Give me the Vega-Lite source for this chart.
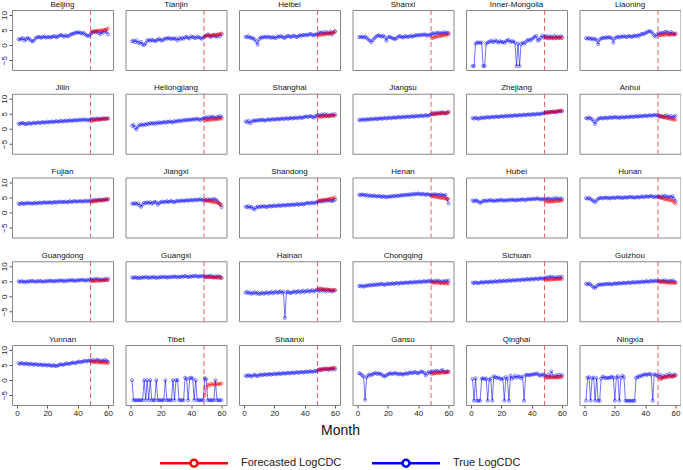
{
"$schema":"https://vega.github.io/schema/vega-lite/v6.json",
"padding":{"left":0,"top":0,"right":0,"bottom":0},
"bounds":"flush",
"data":{"values":[
{"p":"Beijing","m":1,"v":2.0,"s":"T"},{"p":"Beijing","m":2,"v":1.8,"s":"T"},{"p":"Beijing","m":3,"v":2.2,"s":"T"},{"p":"Beijing","m":4,"v":2.3,"s":"T"},{"p":"Beijing","m":5,"v":1.5,"s":"T"},{"p":"Beijing","m":6,"v":2.0,"s":"T"},{"p":"Beijing","m":7,"v":2.4,"s":"T"},{"p":"Beijing","m":8,"v":2.1,"s":"T"},{"p":"Beijing","m":9,"v":1.6,"s":"T"},{"p":"Beijing","m":10,"v":1.2,"s":"T"},
{"p":"Beijing","m":11,"v":1.4,"s":"T"},{"p":"Beijing","m":12,"v":2.2,"s":"T"},{"p":"Beijing","m":13,"v":2.5,"s":"T"},{"p":"Beijing","m":14,"v":2.8,"s":"T"},{"p":"Beijing","m":15,"v":2.6,"s":"T"},{"p":"Beijing","m":16,"v":2.4,"s":"T"},{"p":"Beijing","m":17,"v":2.7,"s":"T"},{"p":"Beijing","m":18,"v":2.9,"s":"T"},{"p":"Beijing","m":19,"v":2.5,"s":"T"},{"p":"Beijing","m":20,"v":2.6,"s":"T"},
{"p":"Beijing","m":21,"v":2.8,"s":"T"},{"p":"Beijing","m":22,"v":2.5,"s":"T"},{"p":"Beijing","m":23,"v":2.7,"s":"T"},{"p":"Beijing","m":24,"v":2.9,"s":"T"},{"p":"Beijing","m":25,"v":3.0,"s":"T"},{"p":"Beijing","m":26,"v":2.6,"s":"T"},{"p":"Beijing","m":27,"v":2.8,"s":"T"},{"p":"Beijing","m":28,"v":3.2,"s":"T"},{"p":"Beijing","m":29,"v":3.4,"s":"T"},{"p":"Beijing","m":30,"v":3.1,"s":"T"},
{"p":"Beijing","m":31,"v":2.8,"s":"T"},{"p":"Beijing","m":32,"v":3.3,"s":"T"},{"p":"Beijing","m":33,"v":2.9,"s":"T"},{"p":"Beijing","m":34,"v":3.0,"s":"T"},{"p":"Beijing","m":35,"v":3.5,"s":"T"},{"p":"Beijing","m":36,"v":3.6,"s":"T"},{"p":"Beijing","m":37,"v":3.8,"s":"T"},{"p":"Beijing","m":38,"v":4.0,"s":"T"},{"p":"Beijing","m":39,"v":4.2,"s":"T"},{"p":"Beijing","m":40,"v":4.1,"s":"T"},
{"p":"Beijing","m":41,"v":4.3,"s":"T"},{"p":"Beijing","m":42,"v":4.0,"s":"T"},{"p":"Beijing","m":43,"v":3.8,"s":"T"},{"p":"Beijing","m":44,"v":4.1,"s":"T"},{"p":"Beijing","m":45,"v":3.6,"s":"T"},{"p":"Beijing","m":46,"v":3.2,"s":"T"},{"p":"Beijing","m":47,"v":3.0,"s":"T"},{"p":"Beijing","m":48,"v":3.3,"s":"T"},
{"p":"Beijing","m":49,"v":4.0,"s":"T"},{"p":"Beijing","m":50,"v":4.3,"s":"T"},{"p":"Beijing","m":51,"v":4.5,"s":"T"},{"p":"Beijing","m":52,"v":4.2,"s":"T"},{"p":"Beijing","m":53,"v":4.6,"s":"T"},{"p":"Beijing","m":54,"v":4.0,"s":"T"},{"p":"Beijing","m":55,"v":3.6,"s":"T"},{"p":"Beijing","m":56,"v":4.4,"s":"T"},{"p":"Beijing","m":57,"v":4.2,"s":"T"},{"p":"Beijing","m":58,"v":4.8,"s":"T"},{"p":"Beijing","m":59,"v":4.5,"s":"T"},{"p":"Beijing","m":60,"v":3.6,"s":"T"},
{"p":"Beijing","m":49,"v":4.2,"s":"F"},{"p":"Beijing","m":50,"v":4.5,"s":"F"},{"p":"Beijing","m":51,"v":4.7,"s":"F"},{"p":"Beijing","m":52,"v":4.6,"s":"F"},{"p":"Beijing","m":53,"v":4.8,"s":"F"},{"p":"Beijing","m":54,"v":4.7,"s":"F"},{"p":"Beijing","m":55,"v":4.9,"s":"F"},{"p":"Beijing","m":56,"v":5.0,"s":"F"},{"p":"Beijing","m":57,"v":4.9,"s":"F"},{"p":"Beijing","m":58,"v":5.1,"s":"F"},{"p":"Beijing","m":59,"v":5.3,"s":"F"},{"p":"Beijing","m":60,"v":5.6,"s":"F"},

{"p":"Tianjin","m":1,"v":1.3,"s":"T"},{"p":"Tianjin","m":2,"v":1.5,"s":"T"},{"p":"Tianjin","m":3,"v":1.0,"s":"T"},{"p":"Tianjin","m":4,"v":1.6,"s":"T"},{"p":"Tianjin","m":5,"v":0.8,"s":"T"},{"p":"Tianjin","m":6,"v":0.6,"s":"T"},{"p":"Tianjin","m":7,"v":1.1,"s":"T"},{"p":"Tianjin","m":8,"v":0.2,"s":"T"},{"p":"Tianjin","m":9,"v":0.0,"s":"T"},{"p":"Tianjin","m":10,"v":0.6,"s":"T"},
{"p":"Tianjin","m":11,"v":1.5,"s":"T"},{"p":"Tianjin","m":12,"v":1.7,"s":"T"},{"p":"Tianjin","m":13,"v":1.4,"s":"T"},{"p":"Tianjin","m":14,"v":1.8,"s":"T"},{"p":"Tianjin","m":15,"v":1.6,"s":"T"},{"p":"Tianjin","m":16,"v":1.3,"s":"T"},{"p":"Tianjin","m":17,"v":1.5,"s":"T"},{"p":"Tianjin","m":18,"v":1.8,"s":"T"},{"p":"Tianjin","m":19,"v":2.1,"s":"T"},{"p":"Tianjin","m":20,"v":1.6,"s":"T"},
{"p":"Tianjin","m":21,"v":1.5,"s":"T"},{"p":"Tianjin","m":22,"v":1.9,"s":"T"},{"p":"Tianjin","m":23,"v":2.3,"s":"T"},{"p":"Tianjin","m":24,"v":2.1,"s":"T"},{"p":"Tianjin","m":25,"v":2.4,"s":"T"},{"p":"Tianjin","m":26,"v":2.2,"s":"T"},{"p":"Tianjin","m":27,"v":2.0,"s":"T"},{"p":"Tianjin","m":28,"v":2.3,"s":"T"},{"p":"Tianjin","m":29,"v":2.1,"s":"T"},{"p":"Tianjin","m":30,"v":2.2,"s":"T"},
{"p":"Tianjin","m":31,"v":1.5,"s":"T"},{"p":"Tianjin","m":32,"v":2.3,"s":"T"},{"p":"Tianjin","m":33,"v":2.0,"s":"T"},{"p":"Tianjin","m":34,"v":2.4,"s":"T"},{"p":"Tianjin","m":35,"v":2.1,"s":"T"},{"p":"Tianjin","m":36,"v":2.6,"s":"T"},{"p":"Tianjin","m":37,"v":2.8,"s":"T"},{"p":"Tianjin","m":38,"v":2.4,"s":"T"},{"p":"Tianjin","m":39,"v":2.2,"s":"T"},{"p":"Tianjin","m":40,"v":2.9,"s":"T"},
{"p":"Tianjin","m":41,"v":2.7,"s":"T"},{"p":"Tianjin","m":42,"v":2.5,"s":"T"},{"p":"Tianjin","m":43,"v":2.3,"s":"T"},{"p":"Tianjin","m":44,"v":2.8,"s":"T"},{"p":"Tianjin","m":45,"v":2.6,"s":"T"},{"p":"Tianjin","m":46,"v":2.4,"s":"T"},{"p":"Tianjin","m":47,"v":2.1,"s":"T"},{"p":"Tianjin","m":48,"v":2.5,"s":"T"},
{"p":"Tianjin","m":49,"v":2.8,"s":"T"},{"p":"Tianjin","m":50,"v":3.2,"s":"T"},{"p":"Tianjin","m":51,"v":3.6,"s":"T"},{"p":"Tianjin","m":52,"v":3.0,"s":"T"},{"p":"Tianjin","m":53,"v":2.7,"s":"T"},{"p":"Tianjin","m":54,"v":3.1,"s":"T"},{"p":"Tianjin","m":55,"v":3.3,"s":"T"},{"p":"Tianjin","m":56,"v":2.9,"s":"T"},{"p":"Tianjin","m":57,"v":2.8,"s":"T"},{"p":"Tianjin","m":58,"v":3.4,"s":"T"},{"p":"Tianjin","m":59,"v":2.9,"s":"T"},{"p":"Tianjin","m":60,"v":3.6,"s":"T"},
{"p":"Tianjin","m":49,"v":2.9,"s":"F"},{"p":"Tianjin","m":50,"v":3.1,"s":"F"},{"p":"Tianjin","m":51,"v":3.2,"s":"F"},{"p":"Tianjin","m":52,"v":3.3,"s":"F"},{"p":"Tianjin","m":53,"v":3.1,"s":"F"},{"p":"Tianjin","m":54,"v":3.4,"s":"F"},{"p":"Tianjin","m":55,"v":3.3,"s":"F"},{"p":"Tianjin","m":56,"v":3.5,"s":"F"},{"p":"Tianjin","m":57,"v":3.4,"s":"F"},{"p":"Tianjin","m":58,"v":3.6,"s":"F"},{"p":"Tianjin","m":59,"v":3.7,"s":"F"},{"p":"Tianjin","m":60,"v":3.9,"s":"F"},

{"p":"Heibei","m":1,"v":2.8,"s":"T"},{"p":"Heibei","m":2,"v":2.6,"s":"T"},{"p":"Heibei","m":3,"v":3.0,"s":"T"},{"p":"Heibei","m":4,"v":2.4,"s":"T"},{"p":"Heibei","m":5,"v":2.5,"s":"T"},{"p":"Heibei","m":6,"v":2.2,"s":"T"},{"p":"Heibei","m":7,"v":1.9,"s":"T"},{"p":"Heibei","m":8,"v":1.2,"s":"T"},{"p":"Heibei","m":9,"v":0.1,"s":"T"},{"p":"Heibei","m":10,"v":2.0,"s":"T"},
{"p":"Heibei","m":11,"v":2.6,"s":"T"},{"p":"Heibei","m":12,"v":2.4,"s":"T"},{"p":"Heibei","m":13,"v":2.8,"s":"T"},{"p":"Heibei","m":14,"v":2.7,"s":"T"},{"p":"Heibei","m":15,"v":2.5,"s":"T"},{"p":"Heibei","m":16,"v":2.9,"s":"T"},{"p":"Heibei","m":17,"v":2.6,"s":"T"},{"p":"Heibei","m":18,"v":2.4,"s":"T"},{"p":"Heibei","m":19,"v":2.7,"s":"T"},{"p":"Heibei","m":20,"v":2.5,"s":"T"},
{"p":"Heibei","m":21,"v":2.3,"s":"T"},{"p":"Heibei","m":22,"v":2.9,"s":"T"},{"p":"Heibei","m":23,"v":2.7,"s":"T"},{"p":"Heibei","m":24,"v":3.0,"s":"T"},{"p":"Heibei","m":25,"v":2.8,"s":"T"},{"p":"Heibei","m":26,"v":2.5,"s":"T"},{"p":"Heibei","m":27,"v":2.4,"s":"T"},{"p":"Heibei","m":28,"v":2.8,"s":"T"},{"p":"Heibei","m":29,"v":3.1,"s":"T"},{"p":"Heibei","m":30,"v":2.9,"s":"T"},
{"p":"Heibei","m":31,"v":2.6,"s":"T"},{"p":"Heibei","m":32,"v":3.0,"s":"T"},{"p":"Heibei","m":33,"v":3.2,"s":"T"},{"p":"Heibei","m":34,"v":2.8,"s":"T"},{"p":"Heibei","m":35,"v":2.7,"s":"T"},{"p":"Heibei","m":36,"v":3.0,"s":"T"},{"p":"Heibei","m":37,"v":3.3,"s":"T"},{"p":"Heibei","m":38,"v":3.1,"s":"T"},{"p":"Heibei","m":39,"v":3.4,"s":"T"},{"p":"Heibei","m":40,"v":3.2,"s":"T"},
{"p":"Heibei","m":41,"v":3.5,"s":"T"},{"p":"Heibei","m":42,"v":3.3,"s":"T"},{"p":"Heibei","m":43,"v":3.6,"s":"T"},{"p":"Heibei","m":44,"v":3.8,"s":"T"},{"p":"Heibei","m":45,"v":3.4,"s":"T"},{"p":"Heibei","m":46,"v":3.2,"s":"T"},{"p":"Heibei","m":47,"v":3.5,"s":"T"},{"p":"Heibei","m":48,"v":3.6,"s":"T"},
{"p":"Heibei","m":49,"v":3.9,"s":"T"},{"p":"Heibei","m":50,"v":4.2,"s":"T"},{"p":"Heibei","m":51,"v":4.0,"s":"T"},{"p":"Heibei","m":52,"v":4.3,"s":"T"},{"p":"Heibei","m":53,"v":3.8,"s":"T"},{"p":"Heibei","m":54,"v":4.4,"s":"T"},{"p":"Heibei","m":55,"v":4.1,"s":"T"},{"p":"Heibei","m":56,"v":3.7,"s":"T"},{"p":"Heibei","m":57,"v":4.5,"s":"T"},{"p":"Heibei","m":58,"v":3.5,"s":"T"},{"p":"Heibei","m":59,"v":4.2,"s":"T"},{"p":"Heibei","m":60,"v":4.7,"s":"T"},
{"p":"Heibei","m":49,"v":3.4,"s":"F"},{"p":"Heibei","m":50,"v":3.3,"s":"F"},{"p":"Heibei","m":51,"v":3.5,"s":"F"},{"p":"Heibei","m":52,"v":3.6,"s":"F"},{"p":"Heibei","m":53,"v":3.5,"s":"F"},{"p":"Heibei","m":54,"v":3.7,"s":"F"},{"p":"Heibei","m":55,"v":3.8,"s":"F"},{"p":"Heibei","m":56,"v":3.9,"s":"F"},{"p":"Heibei","m":57,"v":4.0,"s":"F"},{"p":"Heibei","m":58,"v":4.1,"s":"F"},{"p":"Heibei","m":59,"v":4.2,"s":"F"},{"p":"Heibei","m":60,"v":4.4,"s":"F"},

{"p":"Shanxi","m":1,"v":2.6,"s":"T"},{"p":"Shanxi","m":2,"v":2.8,"s":"T"},{"p":"Shanxi","m":3,"v":2.7,"s":"T"},{"p":"Shanxi","m":4,"v":2.5,"s":"T"},{"p":"Shanxi","m":5,"v":2.9,"s":"T"},{"p":"Shanxi","m":6,"v":2.4,"s":"T"},{"p":"Shanxi","m":7,"v":2.0,"s":"T"},{"p":"Shanxi","m":8,"v":1.5,"s":"T"},{"p":"Shanxi","m":9,"v":1.0,"s":"T"},{"p":"Shanxi","m":10,"v":1.6,"s":"T"},
{"p":"Shanxi","m":11,"v":2.2,"s":"T"},{"p":"Shanxi","m":12,"v":2.7,"s":"T"},{"p":"Shanxi","m":13,"v":3.1,"s":"T"},{"p":"Shanxi","m":14,"v":3.3,"s":"T"},{"p":"Shanxi","m":15,"v":3.0,"s":"T"},{"p":"Shanxi","m":16,"v":2.8,"s":"T"},{"p":"Shanxi","m":17,"v":3.2,"s":"T"},{"p":"Shanxi","m":18,"v":2.6,"s":"T"},{"p":"Shanxi","m":19,"v":1.4,"s":"T"},{"p":"Shanxi","m":20,"v":2.5,"s":"T"},
{"p":"Shanxi","m":21,"v":2.8,"s":"T"},{"p":"Shanxi","m":22,"v":2.6,"s":"T"},{"p":"Shanxi","m":23,"v":2.3,"s":"T"},{"p":"Shanxi","m":24,"v":2.1,"s":"T"},{"p":"Shanxi","m":25,"v":2.0,"s":"T"},{"p":"Shanxi","m":26,"v":2.4,"s":"T"},{"p":"Shanxi","m":27,"v":2.9,"s":"T"},{"p":"Shanxi","m":28,"v":3.0,"s":"T"},{"p":"Shanxi","m":29,"v":2.7,"s":"T"},{"p":"Shanxi","m":30,"v":2.5,"s":"T"},
{"p":"Shanxi","m":31,"v":2.8,"s":"T"},{"p":"Shanxi","m":32,"v":3.0,"s":"T"},{"p":"Shanxi","m":33,"v":2.6,"s":"T"},{"p":"Shanxi","m":34,"v":2.9,"s":"T"},{"p":"Shanxi","m":35,"v":3.1,"s":"T"},{"p":"Shanxi","m":36,"v":2.8,"s":"T"},{"p":"Shanxi","m":37,"v":3.0,"s":"T"},{"p":"Shanxi","m":38,"v":3.3,"s":"T"},{"p":"Shanxi","m":39,"v":3.1,"s":"T"},{"p":"Shanxi","m":40,"v":3.4,"s":"T"},
{"p":"Shanxi","m":41,"v":3.2,"s":"T"},{"p":"Shanxi","m":42,"v":3.5,"s":"T"},{"p":"Shanxi","m":43,"v":3.3,"s":"T"},{"p":"Shanxi","m":44,"v":3.6,"s":"T"},{"p":"Shanxi","m":45,"v":3.4,"s":"T"},{"p":"Shanxi","m":46,"v":3.1,"s":"T"},{"p":"Shanxi","m":47,"v":3.5,"s":"T"},{"p":"Shanxi","m":48,"v":3.3,"s":"T"},
{"p":"Shanxi","m":49,"v":3.8,"s":"T"},{"p":"Shanxi","m":50,"v":4.0,"s":"T"},{"p":"Shanxi","m":51,"v":3.6,"s":"T"},{"p":"Shanxi","m":52,"v":4.1,"s":"T"},{"p":"Shanxi","m":53,"v":3.9,"s":"T"},{"p":"Shanxi","m":54,"v":4.2,"s":"T"},{"p":"Shanxi","m":55,"v":3.7,"s":"T"},{"p":"Shanxi","m":56,"v":4.0,"s":"T"},{"p":"Shanxi","m":57,"v":4.3,"s":"T"},{"p":"Shanxi","m":58,"v":3.9,"s":"T"},{"p":"Shanxi","m":59,"v":4.1,"s":"T"},{"p":"Shanxi","m":60,"v":4.0,"s":"T"},
{"p":"Shanxi","m":49,"v":2.3,"s":"F"},{"p":"Shanxi","m":50,"v":2.5,"s":"F"},{"p":"Shanxi","m":51,"v":2.6,"s":"F"},{"p":"Shanxi","m":52,"v":2.8,"s":"F"},{"p":"Shanxi","m":53,"v":2.9,"s":"F"},{"p":"Shanxi","m":54,"v":3.0,"s":"F"},{"p":"Shanxi","m":55,"v":3.1,"s":"F"},{"p":"Shanxi","m":56,"v":3.2,"s":"F"},{"p":"Shanxi","m":57,"v":3.3,"s":"F"},{"p":"Shanxi","m":58,"v":3.4,"s":"F"},{"p":"Shanxi","m":59,"v":3.5,"s":"F"},{"p":"Shanxi","m":60,"v":3.6,"s":"F"},

{"p":"Inner-Mongolia","m":1,"v":-7.0,"s":"T"},{"p":"Inner-Mongolia","m":2,"v":-7.0,"s":"T"},{"p":"Inner-Mongolia","m":3,"v":0.5,"s":"T"},{"p":"Inner-Mongolia","m":4,"v":0.8,"s":"T"},{"p":"Inner-Mongolia","m":5,"v":0.9,"s":"T"},{"p":"Inner-Mongolia","m":6,"v":0.7,"s":"T"},{"p":"Inner-Mongolia","m":7,"v":0.9,"s":"T"},{"p":"Inner-Mongolia","m":8,"v":-7.0,"s":"T"},{"p":"Inner-Mongolia","m":9,"v":-7.0,"s":"T"},{"p":"Inner-Mongolia","m":10,"v":0.5,"s":"T"},
{"p":"Inner-Mongolia","m":11,"v":0.9,"s":"T"},{"p":"Inner-Mongolia","m":12,"v":1.0,"s":"T"},{"p":"Inner-Mongolia","m":13,"v":1.5,"s":"T"},{"p":"Inner-Mongolia","m":14,"v":1.2,"s":"T"},{"p":"Inner-Mongolia","m":15,"v":1.0,"s":"T"},{"p":"Inner-Mongolia","m":16,"v":1.6,"s":"T"},{"p":"Inner-Mongolia","m":17,"v":1.2,"s":"T"},{"p":"Inner-Mongolia","m":18,"v":0.8,"s":"T"},{"p":"Inner-Mongolia","m":19,"v":1.3,"s":"T"},{"p":"Inner-Mongolia","m":20,"v":1.1,"s":"T"},
{"p":"Inner-Mongolia","m":21,"v":1.0,"s":"T"},{"p":"Inner-Mongolia","m":22,"v":0.7,"s":"T"},{"p":"Inner-Mongolia","m":23,"v":1.3,"s":"T"},{"p":"Inner-Mongolia","m":24,"v":1.6,"s":"T"},{"p":"Inner-Mongolia","m":25,"v":1.7,"s":"T"},{"p":"Inner-Mongolia","m":26,"v":1.0,"s":"T"},{"p":"Inner-Mongolia","m":27,"v":1.3,"s":"T"},{"p":"Inner-Mongolia","m":28,"v":1.2,"s":"T"},{"p":"Inner-Mongolia","m":29,"v":0.8,"s":"T"},{"p":"Inner-Mongolia","m":30,"v":-7.0,"s":"T"},
{"p":"Inner-Mongolia","m":31,"v":0.5,"s":"T"},{"p":"Inner-Mongolia","m":32,"v":-7.0,"s":"T"},{"p":"Inner-Mongolia","m":33,"v":0.3,"s":"T"},{"p":"Inner-Mongolia","m":34,"v":0.8,"s":"T"},{"p":"Inner-Mongolia","m":35,"v":0.5,"s":"T"},{"p":"Inner-Mongolia","m":36,"v":1.0,"s":"T"},{"p":"Inner-Mongolia","m":37,"v":1.5,"s":"T"},{"p":"Inner-Mongolia","m":38,"v":1.8,"s":"T"},{"p":"Inner-Mongolia","m":39,"v":1.5,"s":"T"},{"p":"Inner-Mongolia","m":40,"v":2.0,"s":"T"},
{"p":"Inner-Mongolia","m":41,"v":2.3,"s":"T"},{"p":"Inner-Mongolia","m":42,"v":2.8,"s":"T"},{"p":"Inner-Mongolia","m":43,"v":3.0,"s":"T"},{"p":"Inner-Mongolia","m":44,"v":1.5,"s":"T"},{"p":"Inner-Mongolia","m":45,"v":1.8,"s":"T"},{"p":"Inner-Mongolia","m":46,"v":2.5,"s":"T"},{"p":"Inner-Mongolia","m":47,"v":3.2,"s":"T"},{"p":"Inner-Mongolia","m":48,"v":2.6,"s":"T"},
{"p":"Inner-Mongolia","m":49,"v":2.8,"s":"T"},{"p":"Inner-Mongolia","m":50,"v":3.0,"s":"T"},{"p":"Inner-Mongolia","m":51,"v":2.6,"s":"T"},{"p":"Inner-Mongolia","m":52,"v":2.9,"s":"T"},{"p":"Inner-Mongolia","m":53,"v":2.7,"s":"T"},{"p":"Inner-Mongolia","m":54,"v":2.5,"s":"T"},{"p":"Inner-Mongolia","m":55,"v":3.1,"s":"T"},{"p":"Inner-Mongolia","m":56,"v":2.6,"s":"T"},{"p":"Inner-Mongolia","m":57,"v":2.8,"s":"T"},{"p":"Inner-Mongolia","m":58,"v":2.4,"s":"T"},{"p":"Inner-Mongolia","m":59,"v":3.0,"s":"T"},{"p":"Inner-Mongolia","m":60,"v":2.7,"s":"T"},
{"p":"Inner-Mongolia","m":49,"v":2.3,"s":"F"},{"p":"Inner-Mongolia","m":50,"v":2.4,"s":"F"},{"p":"Inner-Mongolia","m":51,"v":2.2,"s":"F"},{"p":"Inner-Mongolia","m":52,"v":2.3,"s":"F"},{"p":"Inner-Mongolia","m":53,"v":2.4,"s":"F"},{"p":"Inner-Mongolia","m":54,"v":2.3,"s":"F"},{"p":"Inner-Mongolia","m":55,"v":2.2,"s":"F"},{"p":"Inner-Mongolia","m":56,"v":2.4,"s":"F"},{"p":"Inner-Mongolia","m":57,"v":2.3,"s":"F"},{"p":"Inner-Mongolia","m":58,"v":2.5,"s":"F"},{"p":"Inner-Mongolia","m":59,"v":2.4,"s":"F"},{"p":"Inner-Mongolia","m":60,"v":2.3,"s":"F"},

{"p":"Liaoning","m":1,"v":2.3,"s":"T"},{"p":"Liaoning","m":2,"v":2.1,"s":"T"},{"p":"Liaoning","m":3,"v":2.4,"s":"T"},{"p":"Liaoning","m":4,"v":2.0,"s":"T"},{"p":"Liaoning","m":5,"v":2.2,"s":"T"},{"p":"Liaoning","m":6,"v":1.9,"s":"T"},{"p":"Liaoning","m":7,"v":2.1,"s":"T"},{"p":"Liaoning","m":8,"v":1.6,"s":"T"},{"p":"Liaoning","m":9,"v":0.3,"s":"T"},{"p":"Liaoning","m":10,"v":1.8,"s":"T"},
{"p":"Liaoning","m":11,"v":2.2,"s":"T"},{"p":"Liaoning","m":12,"v":2.5,"s":"T"},{"p":"Liaoning","m":13,"v":2.3,"s":"T"},{"p":"Liaoning","m":14,"v":2.6,"s":"T"},{"p":"Liaoning","m":15,"v":2.4,"s":"T"},{"p":"Liaoning","m":16,"v":2.7,"s":"T"},{"p":"Liaoning","m":17,"v":2.5,"s":"T"},{"p":"Liaoning","m":18,"v":2.3,"s":"T"},{"p":"Liaoning","m":19,"v":0.8,"s":"T"},{"p":"Liaoning","m":20,"v":2.2,"s":"T"},
{"p":"Liaoning","m":21,"v":2.6,"s":"T"},{"p":"Liaoning","m":22,"v":2.8,"s":"T"},{"p":"Liaoning","m":23,"v":2.5,"s":"T"},{"p":"Liaoning","m":24,"v":2.9,"s":"T"},{"p":"Liaoning","m":25,"v":2.7,"s":"T"},{"p":"Liaoning","m":26,"v":3.0,"s":"T"},{"p":"Liaoning","m":27,"v":2.8,"s":"T"},{"p":"Liaoning","m":28,"v":2.6,"s":"T"},{"p":"Liaoning","m":29,"v":3.1,"s":"T"},{"p":"Liaoning","m":30,"v":2.9,"s":"T"},
{"p":"Liaoning","m":31,"v":2.7,"s":"T"},{"p":"Liaoning","m":32,"v":3.0,"s":"T"},{"p":"Liaoning","m":33,"v":3.2,"s":"T"},{"p":"Liaoning","m":34,"v":2.9,"s":"T"},{"p":"Liaoning","m":35,"v":3.3,"s":"T"},{"p":"Liaoning","m":36,"v":3.1,"s":"T"},{"p":"Liaoning","m":37,"v":3.5,"s":"T"},{"p":"Liaoning","m":38,"v":3.8,"s":"T"},{"p":"Liaoning","m":39,"v":3.6,"s":"T"},{"p":"Liaoning","m":40,"v":4.0,"s":"T"},
{"p":"Liaoning","m":41,"v":4.2,"s":"T"},{"p":"Liaoning","m":42,"v":4.5,"s":"T"},{"p":"Liaoning","m":43,"v":4.7,"s":"T"},{"p":"Liaoning","m":44,"v":4.4,"s":"T"},{"p":"Liaoning","m":45,"v":3.9,"s":"T"},{"p":"Liaoning","m":46,"v":3.2,"s":"T"},{"p":"Liaoning","m":47,"v":2.8,"s":"T"},{"p":"Liaoning","m":48,"v":3.6,"s":"T"},
{"p":"Liaoning","m":49,"v":4.0,"s":"T"},{"p":"Liaoning","m":50,"v":3.8,"s":"T"},{"p":"Liaoning","m":51,"v":4.2,"s":"T"},{"p":"Liaoning","m":52,"v":3.9,"s":"T"},{"p":"Liaoning","m":53,"v":4.3,"s":"T"},{"p":"Liaoning","m":54,"v":4.5,"s":"T"},{"p":"Liaoning","m":55,"v":4.1,"s":"T"},{"p":"Liaoning","m":56,"v":3.7,"s":"T"},{"p":"Liaoning","m":57,"v":4.4,"s":"T"},{"p":"Liaoning","m":58,"v":4.0,"s":"T"},{"p":"Liaoning","m":59,"v":3.5,"s":"T"},{"p":"Liaoning","m":60,"v":3.9,"s":"T"},
{"p":"Liaoning","m":49,"v":3.3,"s":"F"},{"p":"Liaoning","m":50,"v":3.4,"s":"F"},{"p":"Liaoning","m":51,"v":3.3,"s":"F"},{"p":"Liaoning","m":52,"v":3.5,"s":"F"},{"p":"Liaoning","m":53,"v":3.4,"s":"F"},{"p":"Liaoning","m":54,"v":3.6,"s":"F"},{"p":"Liaoning","m":55,"v":3.5,"s":"F"},{"p":"Liaoning","m":56,"v":3.4,"s":"F"},{"p":"Liaoning","m":57,"v":3.6,"s":"F"},{"p":"Liaoning","m":58,"v":3.5,"s":"F"},{"p":"Liaoning","m":59,"v":3.7,"s":"F"},{"p":"Liaoning","m":60,"v":3.6,"s":"F"},

{"p":"Jilin","m":1,"v":1.8,"s":"T"},{"p":"Jilin","m":2,"v":1.6,"s":"T"},{"p":"Jilin","m":3,"v":2.0,"s":"T"},{"p":"Jilin","m":4,"v":1.9,"s":"T"},{"p":"Jilin","m":5,"v":1.7,"s":"T"},{"p":"Jilin","m":6,"v":1.5,"s":"T"},{"p":"Jilin","m":7,"v":1.8,"s":"T"},{"p":"Jilin","m":8,"v":2.0,"s":"T"},{"p":"Jilin","m":9,"v":1.6,"s":"T"},{"p":"Jilin","m":10,"v":1.9,"s":"T"},
{"p":"Jilin","m":11,"v":2.1,"s":"T"},{"p":"Jilin","m":12,"v":1.8,"s":"T"},{"p":"Jilin","m":13,"v":2.0,"s":"T"},{"p":"Jilin","m":14,"v":2.2,"s":"T"},{"p":"Jilin","m":15,"v":1.9,"s":"T"},{"p":"Jilin","m":16,"v":2.1,"s":"T"},{"p":"Jilin","m":17,"v":2.3,"s":"T"},{"p":"Jilin","m":18,"v":2.0,"s":"T"},{"p":"Jilin","m":19,"v":2.2,"s":"T"},{"p":"Jilin","m":20,"v":2.4,"s":"T"},
{"p":"Jilin","m":21,"v":2.1,"s":"T"},{"p":"Jilin","m":22,"v":2.3,"s":"T"},{"p":"Jilin","m":23,"v":2.5,"s":"T"},{"p":"Jilin","m":24,"v":2.2,"s":"T"},{"p":"Jilin","m":25,"v":2.4,"s":"T"},{"p":"Jilin","m":26,"v":2.6,"s":"T"},{"p":"Jilin","m":27,"v":2.3,"s":"T"},{"p":"Jilin","m":28,"v":2.5,"s":"T"},{"p":"Jilin","m":29,"v":2.7,"s":"T"},{"p":"Jilin","m":30,"v":2.4,"s":"T"},
{"p":"Jilin","m":31,"v":2.6,"s":"T"},{"p":"Jilin","m":32,"v":2.8,"s":"T"},{"p":"Jilin","m":33,"v":2.5,"s":"T"},{"p":"Jilin","m":34,"v":2.7,"s":"T"},{"p":"Jilin","m":35,"v":2.9,"s":"T"},{"p":"Jilin","m":36,"v":2.6,"s":"T"},{"p":"Jilin","m":37,"v":2.8,"s":"T"},{"p":"Jilin","m":38,"v":3.0,"s":"T"},{"p":"Jilin","m":39,"v":2.7,"s":"T"},{"p":"Jilin","m":40,"v":2.9,"s":"T"},
{"p":"Jilin","m":41,"v":3.1,"s":"T"},{"p":"Jilin","m":42,"v":2.8,"s":"T"},{"p":"Jilin","m":43,"v":3.0,"s":"T"},{"p":"Jilin","m":44,"v":3.2,"s":"T"},{"p":"Jilin","m":45,"v":2.9,"s":"T"},{"p":"Jilin","m":46,"v":3.1,"s":"T"},{"p":"Jilin","m":47,"v":2.8,"s":"T"},{"p":"Jilin","m":48,"v":3.0,"s":"T"},
{"p":"Jilin","m":49,"v":3.2,"s":"T"},{"p":"Jilin","m":50,"v":3.4,"s":"T"},{"p":"Jilin","m":51,"v":3.0,"s":"T"},{"p":"Jilin","m":52,"v":3.3,"s":"T"},{"p":"Jilin","m":53,"v":3.5,"s":"T"},{"p":"Jilin","m":54,"v":3.1,"s":"T"},{"p":"Jilin","m":55,"v":3.4,"s":"T"},{"p":"Jilin","m":56,"v":3.2,"s":"T"},{"p":"Jilin","m":57,"v":3.6,"s":"T"},{"p":"Jilin","m":58,"v":3.3,"s":"T"},{"p":"Jilin","m":59,"v":3.5,"s":"T"},{"p":"Jilin","m":60,"v":3.4,"s":"T"},
{"p":"Jilin","m":49,"v":2.6,"s":"F"},{"p":"Jilin","m":50,"v":2.8,"s":"F"},{"p":"Jilin","m":51,"v":2.9,"s":"F"},{"p":"Jilin","m":52,"v":3.0,"s":"F"},{"p":"Jilin","m":53,"v":3.0,"s":"F"},{"p":"Jilin","m":54,"v":3.1,"s":"F"},{"p":"Jilin","m":55,"v":3.2,"s":"F"},{"p":"Jilin","m":56,"v":3.2,"s":"F"},{"p":"Jilin","m":57,"v":3.3,"s":"F"},{"p":"Jilin","m":58,"v":3.3,"s":"F"},{"p":"Jilin","m":59,"v":3.4,"s":"F"},{"p":"Jilin","m":60,"v":3.5,"s":"F"},

{"p":"Heilongjiang","m":1,"v":1.0,"s":"T"},{"p":"Heilongjiang","m":2,"v":1.3,"s":"T"},{"p":"Heilongjiang","m":3,"v":0.4,"s":"T"},{"p":"Heilongjiang","m":4,"v":-0.2,"s":"T"},{"p":"Heilongjiang","m":5,"v":0.8,"s":"T"},{"p":"Heilongjiang","m":6,"v":1.2,"s":"T"},{"p":"Heilongjiang","m":7,"v":1.5,"s":"T"},{"p":"Heilongjiang","m":8,"v":1.1,"s":"T"},{"p":"Heilongjiang","m":9,"v":1.6,"s":"T"},{"p":"Heilongjiang","m":10,"v":1.3,"s":"T"},
{"p":"Heilongjiang","m":11,"v":1.8,"s":"T"},{"p":"Heilongjiang","m":12,"v":1.5,"s":"T"},{"p":"Heilongjiang","m":13,"v":1.9,"s":"T"},{"p":"Heilongjiang","m":14,"v":1.7,"s":"T"},{"p":"Heilongjiang","m":15,"v":2.0,"s":"T"},{"p":"Heilongjiang","m":16,"v":1.6,"s":"T"},{"p":"Heilongjiang","m":17,"v":2.1,"s":"T"},{"p":"Heilongjiang","m":18,"v":1.8,"s":"T"},{"p":"Heilongjiang","m":19,"v":2.2,"s":"T"},{"p":"Heilongjiang","m":20,"v":1.9,"s":"T"},
{"p":"Heilongjiang","m":21,"v":2.1,"s":"T"},{"p":"Heilongjiang","m":22,"v":2.3,"s":"T"},{"p":"Heilongjiang","m":23,"v":2.0,"s":"T"},{"p":"Heilongjiang","m":24,"v":2.4,"s":"T"},{"p":"Heilongjiang","m":25,"v":2.2,"s":"T"},{"p":"Heilongjiang","m":26,"v":2.5,"s":"T"},{"p":"Heilongjiang","m":27,"v":2.3,"s":"T"},{"p":"Heilongjiang","m":28,"v":2.1,"s":"T"},{"p":"Heilongjiang","m":29,"v":2.6,"s":"T"},{"p":"Heilongjiang","m":30,"v":2.4,"s":"T"},
{"p":"Heilongjiang","m":31,"v":2.6,"s":"T"},{"p":"Heilongjiang","m":32,"v":2.8,"s":"T"},{"p":"Heilongjiang","m":33,"v":2.5,"s":"T"},{"p":"Heilongjiang","m":34,"v":2.9,"s":"T"},{"p":"Heilongjiang","m":35,"v":2.7,"s":"T"},{"p":"Heilongjiang","m":36,"v":3.0,"s":"T"},{"p":"Heilongjiang","m":37,"v":2.8,"s":"T"},{"p":"Heilongjiang","m":38,"v":3.1,"s":"T"},{"p":"Heilongjiang","m":39,"v":2.9,"s":"T"},{"p":"Heilongjiang","m":40,"v":3.2,"s":"T"},
{"p":"Heilongjiang","m":41,"v":3.0,"s":"T"},{"p":"Heilongjiang","m":42,"v":3.3,"s":"T"},{"p":"Heilongjiang","m":43,"v":3.1,"s":"T"},{"p":"Heilongjiang","m":44,"v":3.4,"s":"T"},{"p":"Heilongjiang","m":45,"v":3.2,"s":"T"},{"p":"Heilongjiang","m":46,"v":2.9,"s":"T"},{"p":"Heilongjiang","m":47,"v":3.3,"s":"T"},{"p":"Heilongjiang","m":48,"v":3.5,"s":"T"},
{"p":"Heilongjiang","m":49,"v":3.6,"s":"T"},{"p":"Heilongjiang","m":50,"v":3.9,"s":"T"},{"p":"Heilongjiang","m":51,"v":3.4,"s":"T"},{"p":"Heilongjiang","m":52,"v":4.0,"s":"T"},{"p":"Heilongjiang","m":53,"v":3.7,"s":"T"},{"p":"Heilongjiang","m":54,"v":4.1,"s":"T"},{"p":"Heilongjiang","m":55,"v":3.8,"s":"T"},{"p":"Heilongjiang","m":56,"v":3.5,"s":"T"},{"p":"Heilongjiang","m":57,"v":4.0,"s":"T"},{"p":"Heilongjiang","m":58,"v":3.8,"s":"T"},{"p":"Heilongjiang","m":59,"v":4.2,"s":"T"},{"p":"Heilongjiang","m":60,"v":3.9,"s":"T"},
{"p":"Heilongjiang","m":49,"v":2.8,"s":"F"},{"p":"Heilongjiang","m":50,"v":2.9,"s":"F"},{"p":"Heilongjiang","m":51,"v":3.0,"s":"F"},{"p":"Heilongjiang","m":52,"v":3.0,"s":"F"},{"p":"Heilongjiang","m":53,"v":3.1,"s":"F"},{"p":"Heilongjiang","m":54,"v":3.1,"s":"F"},{"p":"Heilongjiang","m":55,"v":3.2,"s":"F"},{"p":"Heilongjiang","m":56,"v":3.2,"s":"F"},{"p":"Heilongjiang","m":57,"v":3.3,"s":"F"},{"p":"Heilongjiang","m":58,"v":3.3,"s":"F"},{"p":"Heilongjiang","m":59,"v":3.4,"s":"F"},{"p":"Heilongjiang","m":60,"v":3.4,"s":"F"},

{"p":"Shanghai","m":1,"v":2.5,"s":"T"},{"p":"Shanghai","m":2,"v":2.2,"s":"T"},{"p":"Shanghai","m":3,"v":2.7,"s":"T"},{"p":"Shanghai","m":4,"v":1.8,"s":"T"},{"p":"Shanghai","m":5,"v":2.4,"s":"T"},{"p":"Shanghai","m":6,"v":2.8,"s":"T"},{"p":"Shanghai","m":7,"v":2.6,"s":"T"},{"p":"Shanghai","m":8,"v":2.9,"s":"T"},{"p":"Shanghai","m":9,"v":2.7,"s":"T"},{"p":"Shanghai","m":10,"v":3.0,"s":"T"},
{"p":"Shanghai","m":11,"v":2.8,"s":"T"},{"p":"Shanghai","m":12,"v":3.1,"s":"T"},{"p":"Shanghai","m":13,"v":2.9,"s":"T"},{"p":"Shanghai","m":14,"v":2.7,"s":"T"},{"p":"Shanghai","m":15,"v":3.0,"s":"T"},{"p":"Shanghai","m":16,"v":3.2,"s":"T"},{"p":"Shanghai","m":17,"v":2.9,"s":"T"},{"p":"Shanghai","m":18,"v":3.1,"s":"T"},{"p":"Shanghai","m":19,"v":3.3,"s":"T"},{"p":"Shanghai","m":20,"v":3.0,"s":"T"},
{"p":"Shanghai","m":21,"v":3.2,"s":"T"},{"p":"Shanghai","m":22,"v":3.4,"s":"T"},{"p":"Shanghai","m":23,"v":3.1,"s":"T"},{"p":"Shanghai","m":24,"v":3.3,"s":"T"},{"p":"Shanghai","m":25,"v":3.5,"s":"T"},{"p":"Shanghai","m":26,"v":3.2,"s":"T"},{"p":"Shanghai","m":27,"v":3.4,"s":"T"},{"p":"Shanghai","m":28,"v":3.6,"s":"T"},{"p":"Shanghai","m":29,"v":3.3,"s":"T"},{"p":"Shanghai","m":30,"v":3.5,"s":"T"},
{"p":"Shanghai","m":31,"v":3.7,"s":"T"},{"p":"Shanghai","m":32,"v":3.4,"s":"T"},{"p":"Shanghai","m":33,"v":3.6,"s":"T"},{"p":"Shanghai","m":34,"v":3.8,"s":"T"},{"p":"Shanghai","m":35,"v":3.5,"s":"T"},{"p":"Shanghai","m":36,"v":3.7,"s":"T"},{"p":"Shanghai","m":37,"v":3.9,"s":"T"},{"p":"Shanghai","m":38,"v":3.6,"s":"T"},{"p":"Shanghai","m":39,"v":3.8,"s":"T"},{"p":"Shanghai","m":40,"v":4.0,"s":"T"},
{"p":"Shanghai","m":41,"v":4.2,"s":"T"},{"p":"Shanghai","m":42,"v":3.9,"s":"T"},{"p":"Shanghai","m":43,"v":4.1,"s":"T"},{"p":"Shanghai","m":44,"v":4.3,"s":"T"},{"p":"Shanghai","m":45,"v":4.0,"s":"T"},{"p":"Shanghai","m":46,"v":3.7,"s":"T"},{"p":"Shanghai","m":47,"v":4.2,"s":"T"},{"p":"Shanghai","m":48,"v":4.4,"s":"T"},
{"p":"Shanghai","m":49,"v":4.6,"s":"T"},{"p":"Shanghai","m":50,"v":4.3,"s":"T"},{"p":"Shanghai","m":51,"v":4.8,"s":"T"},{"p":"Shanghai","m":52,"v":4.5,"s":"T"},{"p":"Shanghai","m":53,"v":4.9,"s":"T"},{"p":"Shanghai","m":54,"v":4.4,"s":"T"},{"p":"Shanghai","m":55,"v":4.7,"s":"T"},{"p":"Shanghai","m":56,"v":4.2,"s":"T"},{"p":"Shanghai","m":57,"v":4.6,"s":"T"},{"p":"Shanghai","m":58,"v":4.8,"s":"T"},{"p":"Shanghai","m":59,"v":4.5,"s":"T"},{"p":"Shanghai","m":60,"v":4.9,"s":"T"},
{"p":"Shanghai","m":49,"v":4.0,"s":"F"},{"p":"Shanghai","m":50,"v":4.1,"s":"F"},{"p":"Shanghai","m":51,"v":4.0,"s":"F"},{"p":"Shanghai","m":52,"v":4.2,"s":"F"},{"p":"Shanghai","m":53,"v":4.1,"s":"F"},{"p":"Shanghai","m":54,"v":4.3,"s":"F"},{"p":"Shanghai","m":55,"v":4.2,"s":"F"},{"p":"Shanghai","m":56,"v":4.3,"s":"F"},{"p":"Shanghai","m":57,"v":4.4,"s":"F"},{"p":"Shanghai","m":58,"v":4.3,"s":"F"},{"p":"Shanghai","m":59,"v":4.5,"s":"F"},{"p":"Shanghai","m":60,"v":4.4,"s":"F"},

{"p":"Jiangsu","m":1,"v":3.0,"s":"T"},{"p":"Jiangsu","m":2,"v":2.8,"s":"T"},{"p":"Jiangsu","m":3,"v":3.2,"s":"T"},{"p":"Jiangsu","m":4,"v":3.1,"s":"T"},{"p":"Jiangsu","m":5,"v":2.9,"s":"T"},{"p":"Jiangsu","m":6,"v":3.3,"s":"T"},{"p":"Jiangsu","m":7,"v":3.0,"s":"T"},{"p":"Jiangsu","m":8,"v":3.2,"s":"T"},{"p":"Jiangsu","m":9,"v":3.4,"s":"T"},{"p":"Jiangsu","m":10,"v":3.1,"s":"T"},
{"p":"Jiangsu","m":11,"v":3.3,"s":"T"},{"p":"Jiangsu","m":12,"v":3.5,"s":"T"},{"p":"Jiangsu","m":13,"v":3.2,"s":"T"},{"p":"Jiangsu","m":14,"v":3.4,"s":"T"},{"p":"Jiangsu","m":15,"v":3.6,"s":"T"},{"p":"Jiangsu","m":16,"v":3.3,"s":"T"},{"p":"Jiangsu","m":17,"v":3.5,"s":"T"},{"p":"Jiangsu","m":18,"v":3.7,"s":"T"},{"p":"Jiangsu","m":19,"v":3.4,"s":"T"},{"p":"Jiangsu","m":20,"v":3.6,"s":"T"},
{"p":"Jiangsu","m":21,"v":3.8,"s":"T"},{"p":"Jiangsu","m":22,"v":3.5,"s":"T"},{"p":"Jiangsu","m":23,"v":3.7,"s":"T"},{"p":"Jiangsu","m":24,"v":3.9,"s":"T"},{"p":"Jiangsu","m":25,"v":3.6,"s":"T"},{"p":"Jiangsu","m":26,"v":3.8,"s":"T"},{"p":"Jiangsu","m":27,"v":4.0,"s":"T"},{"p":"Jiangsu","m":28,"v":3.7,"s":"T"},{"p":"Jiangsu","m":29,"v":3.9,"s":"T"},{"p":"Jiangsu","m":30,"v":4.1,"s":"T"},
{"p":"Jiangsu","m":31,"v":3.8,"s":"T"},{"p":"Jiangsu","m":32,"v":4.0,"s":"T"},{"p":"Jiangsu","m":33,"v":4.2,"s":"T"},{"p":"Jiangsu","m":34,"v":3.9,"s":"T"},{"p":"Jiangsu","m":35,"v":4.1,"s":"T"},{"p":"Jiangsu","m":36,"v":4.3,"s":"T"},{"p":"Jiangsu","m":37,"v":4.0,"s":"T"},{"p":"Jiangsu","m":38,"v":4.2,"s":"T"},{"p":"Jiangsu","m":39,"v":4.4,"s":"T"},{"p":"Jiangsu","m":40,"v":4.1,"s":"T"},
{"p":"Jiangsu","m":41,"v":4.3,"s":"T"},{"p":"Jiangsu","m":42,"v":4.5,"s":"T"},{"p":"Jiangsu","m":43,"v":4.2,"s":"T"},{"p":"Jiangsu","m":44,"v":4.4,"s":"T"},{"p":"Jiangsu","m":45,"v":4.6,"s":"T"},{"p":"Jiangsu","m":46,"v":4.3,"s":"T"},{"p":"Jiangsu","m":47,"v":4.5,"s":"T"},{"p":"Jiangsu","m":48,"v":4.7,"s":"T"},
{"p":"Jiangsu","m":49,"v":5.0,"s":"T"},{"p":"Jiangsu","m":50,"v":5.3,"s":"T"},{"p":"Jiangsu","m":51,"v":4.9,"s":"T"},{"p":"Jiangsu","m":52,"v":5.4,"s":"T"},{"p":"Jiangsu","m":53,"v":5.1,"s":"T"},{"p":"Jiangsu","m":54,"v":5.5,"s":"T"},{"p":"Jiangsu","m":55,"v":5.2,"s":"T"},{"p":"Jiangsu","m":56,"v":5.6,"s":"T"},{"p":"Jiangsu","m":57,"v":5.3,"s":"T"},{"p":"Jiangsu","m":58,"v":5.0,"s":"T"},{"p":"Jiangsu","m":59,"v":5.4,"s":"T"},{"p":"Jiangsu","m":60,"v":5.7,"s":"T"},
{"p":"Jiangsu","m":49,"v":4.8,"s":"F"},{"p":"Jiangsu","m":50,"v":4.9,"s":"F"},{"p":"Jiangsu","m":51,"v":4.9,"s":"F"},{"p":"Jiangsu","m":52,"v":5.0,"s":"F"},{"p":"Jiangsu","m":53,"v":5.0,"s":"F"},{"p":"Jiangsu","m":54,"v":5.1,"s":"F"},{"p":"Jiangsu","m":55,"v":5.1,"s":"F"},{"p":"Jiangsu","m":56,"v":5.2,"s":"F"},{"p":"Jiangsu","m":57,"v":5.2,"s":"F"},{"p":"Jiangsu","m":58,"v":5.3,"s":"F"},{"p":"Jiangsu","m":59,"v":5.3,"s":"F"},{"p":"Jiangsu","m":60,"v":5.4,"s":"F"},

{"p":"Zhejiang","m":1,"v":3.6,"s":"T"},{"p":"Zhejiang","m":2,"v":3.4,"s":"T"},{"p":"Zhejiang","m":3,"v":3.8,"s":"T"},{"p":"Zhejiang","m":4,"v":3.5,"s":"T"},{"p":"Zhejiang","m":5,"v":3.3,"s":"T"},{"p":"Zhejiang","m":6,"v":3.7,"s":"T"},{"p":"Zhejiang","m":7,"v":3.5,"s":"T"},{"p":"Zhejiang","m":8,"v":3.9,"s":"T"},{"p":"Zhejiang","m":9,"v":3.6,"s":"T"},{"p":"Zhejiang","m":10,"v":3.8,"s":"T"},
{"p":"Zhejiang","m":11,"v":4.0,"s":"T"},{"p":"Zhejiang","m":12,"v":3.7,"s":"T"},{"p":"Zhejiang","m":13,"v":3.9,"s":"T"},{"p":"Zhejiang","m":14,"v":4.1,"s":"T"},{"p":"Zhejiang","m":15,"v":3.8,"s":"T"},{"p":"Zhejiang","m":16,"v":4.0,"s":"T"},{"p":"Zhejiang","m":17,"v":4.2,"s":"T"},{"p":"Zhejiang","m":18,"v":3.9,"s":"T"},{"p":"Zhejiang","m":19,"v":4.1,"s":"T"},{"p":"Zhejiang","m":20,"v":4.3,"s":"T"},
{"p":"Zhejiang","m":21,"v":4.0,"s":"T"},{"p":"Zhejiang","m":22,"v":4.2,"s":"T"},{"p":"Zhejiang","m":23,"v":4.4,"s":"T"},{"p":"Zhejiang","m":24,"v":4.1,"s":"T"},{"p":"Zhejiang","m":25,"v":4.3,"s":"T"},{"p":"Zhejiang","m":26,"v":4.5,"s":"T"},{"p":"Zhejiang","m":27,"v":4.2,"s":"T"},{"p":"Zhejiang","m":28,"v":4.4,"s":"T"},{"p":"Zhejiang","m":29,"v":4.6,"s":"T"},{"p":"Zhejiang","m":30,"v":4.3,"s":"T"},
{"p":"Zhejiang","m":31,"v":4.5,"s":"T"},{"p":"Zhejiang","m":32,"v":4.7,"s":"T"},{"p":"Zhejiang","m":33,"v":4.4,"s":"T"},{"p":"Zhejiang","m":34,"v":4.6,"s":"T"},{"p":"Zhejiang","m":35,"v":4.8,"s":"T"},{"p":"Zhejiang","m":36,"v":4.5,"s":"T"},{"p":"Zhejiang","m":37,"v":4.7,"s":"T"},{"p":"Zhejiang","m":38,"v":4.9,"s":"T"},{"p":"Zhejiang","m":39,"v":4.6,"s":"T"},{"p":"Zhejiang","m":40,"v":4.8,"s":"T"},
{"p":"Zhejiang","m":41,"v":5.0,"s":"T"},{"p":"Zhejiang","m":42,"v":4.7,"s":"T"},{"p":"Zhejiang","m":43,"v":4.9,"s":"T"},{"p":"Zhejiang","m":44,"v":5.1,"s":"T"},{"p":"Zhejiang","m":45,"v":4.8,"s":"T"},{"p":"Zhejiang","m":46,"v":5.0,"s":"T"},{"p":"Zhejiang","m":47,"v":5.2,"s":"T"},{"p":"Zhejiang","m":48,"v":5.1,"s":"T"},
{"p":"Zhejiang","m":49,"v":5.4,"s":"T"},{"p":"Zhejiang","m":50,"v":5.6,"s":"T"},{"p":"Zhejiang","m":51,"v":5.3,"s":"T"},{"p":"Zhejiang","m":52,"v":5.7,"s":"T"},{"p":"Zhejiang","m":53,"v":5.5,"s":"T"},{"p":"Zhejiang","m":54,"v":5.8,"s":"T"},{"p":"Zhejiang","m":55,"v":5.6,"s":"T"},{"p":"Zhejiang","m":56,"v":5.4,"s":"T"},{"p":"Zhejiang","m":57,"v":5.9,"s":"T"},{"p":"Zhejiang","m":58,"v":5.7,"s":"T"},{"p":"Zhejiang","m":59,"v":6.0,"s":"T"},{"p":"Zhejiang","m":60,"v":5.8,"s":"T"},
{"p":"Zhejiang","m":49,"v":5.3,"s":"F"},{"p":"Zhejiang","m":50,"v":5.4,"s":"F"},{"p":"Zhejiang","m":51,"v":5.5,"s":"F"},{"p":"Zhejiang","m":52,"v":5.5,"s":"F"},{"p":"Zhejiang","m":53,"v":5.6,"s":"F"},{"p":"Zhejiang","m":54,"v":5.7,"s":"F"},{"p":"Zhejiang","m":55,"v":5.7,"s":"F"},{"p":"Zhejiang","m":56,"v":5.8,"s":"F"},{"p":"Zhejiang","m":57,"v":5.9,"s":"F"},{"p":"Zhejiang","m":58,"v":5.9,"s":"F"},{"p":"Zhejiang","m":59,"v":6.0,"s":"F"},{"p":"Zhejiang","m":60,"v":6.1,"s":"F"},

{"p":"Anhui","m":1,"v":3.6,"s":"T"},{"p":"Anhui","m":2,"v":3.4,"s":"T"},{"p":"Anhui","m":3,"v":3.8,"s":"T"},{"p":"Anhui","m":4,"v":3.5,"s":"T"},{"p":"Anhui","m":5,"v":3.2,"s":"T"},{"p":"Anhui","m":6,"v":2.5,"s":"T"},{"p":"Anhui","m":7,"v":1.6,"s":"T"},{"p":"Anhui","m":8,"v":2.8,"s":"T"},{"p":"Anhui","m":9,"v":3.3,"s":"T"},{"p":"Anhui","m":10,"v":3.5,"s":"T"},
{"p":"Anhui","m":11,"v":3.7,"s":"T"},{"p":"Anhui","m":12,"v":3.4,"s":"T"},{"p":"Anhui","m":13,"v":3.6,"s":"T"},{"p":"Anhui","m":14,"v":3.8,"s":"T"},{"p":"Anhui","m":15,"v":3.5,"s":"T"},{"p":"Anhui","m":16,"v":3.7,"s":"T"},{"p":"Anhui","m":17,"v":3.9,"s":"T"},{"p":"Anhui","m":18,"v":3.6,"s":"T"},{"p":"Anhui","m":19,"v":3.8,"s":"T"},{"p":"Anhui","m":20,"v":4.0,"s":"T"},
{"p":"Anhui","m":21,"v":3.7,"s":"T"},{"p":"Anhui","m":22,"v":3.9,"s":"T"},{"p":"Anhui","m":23,"v":3.6,"s":"T"},{"p":"Anhui","m":24,"v":3.8,"s":"T"},{"p":"Anhui","m":25,"v":4.0,"s":"T"},{"p":"Anhui","m":26,"v":3.7,"s":"T"},{"p":"Anhui","m":27,"v":3.9,"s":"T"},{"p":"Anhui","m":28,"v":4.1,"s":"T"},{"p":"Anhui","m":29,"v":3.8,"s":"T"},{"p":"Anhui","m":30,"v":4.0,"s":"T"},
{"p":"Anhui","m":31,"v":4.2,"s":"T"},{"p":"Anhui","m":32,"v":3.9,"s":"T"},{"p":"Anhui","m":33,"v":4.1,"s":"T"},{"p":"Anhui","m":34,"v":4.3,"s":"T"},{"p":"Anhui","m":35,"v":4.0,"s":"T"},{"p":"Anhui","m":36,"v":4.2,"s":"T"},{"p":"Anhui","m":37,"v":4.4,"s":"T"},{"p":"Anhui","m":38,"v":4.1,"s":"T"},{"p":"Anhui","m":39,"v":4.3,"s":"T"},{"p":"Anhui","m":40,"v":4.5,"s":"T"},
{"p":"Anhui","m":41,"v":4.2,"s":"T"},{"p":"Anhui","m":42,"v":4.4,"s":"T"},{"p":"Anhui","m":43,"v":4.6,"s":"T"},{"p":"Anhui","m":44,"v":4.3,"s":"T"},{"p":"Anhui","m":45,"v":4.5,"s":"T"},{"p":"Anhui","m":46,"v":4.7,"s":"T"},{"p":"Anhui","m":47,"v":4.4,"s":"T"},{"p":"Anhui","m":48,"v":4.6,"s":"T"},
{"p":"Anhui","m":49,"v":4.3,"s":"T"},{"p":"Anhui","m":50,"v":4.0,"s":"T"},{"p":"Anhui","m":51,"v":4.4,"s":"T"},{"p":"Anhui","m":52,"v":3.8,"s":"T"},{"p":"Anhui","m":53,"v":4.2,"s":"T"},{"p":"Anhui","m":54,"v":4.5,"s":"T"},{"p":"Anhui","m":55,"v":4.1,"s":"T"},{"p":"Anhui","m":56,"v":3.9,"s":"T"},{"p":"Anhui","m":57,"v":4.3,"s":"T"},{"p":"Anhui","m":58,"v":3.7,"s":"T"},{"p":"Anhui","m":59,"v":4.0,"s":"T"},{"p":"Anhui","m":60,"v":4.4,"s":"T"},
{"p":"Anhui","m":49,"v":4.5,"s":"F"},{"p":"Anhui","m":50,"v":4.3,"s":"F"},{"p":"Anhui","m":51,"v":4.1,"s":"F"},{"p":"Anhui","m":52,"v":3.9,"s":"F"},{"p":"Anhui","m":53,"v":3.8,"s":"F"},{"p":"Anhui","m":54,"v":3.6,"s":"F"},{"p":"Anhui","m":55,"v":3.5,"s":"F"},{"p":"Anhui","m":56,"v":3.4,"s":"F"},{"p":"Anhui","m":57,"v":3.3,"s":"F"},{"p":"Anhui","m":58,"v":3.2,"s":"F"},{"p":"Anhui","m":59,"v":3.1,"s":"F"},{"p":"Anhui","m":60,"v":3.0,"s":"F"},

{"p":"Fujian","m":1,"v":3.0,"s":"T"},{"p":"Fujian","m":2,"v":2.8,"s":"T"},{"p":"Fujian","m":3,"v":3.2,"s":"T"},{"p":"Fujian","m":4,"v":3.0,"s":"T"},{"p":"Fujian","m":5,"v":2.9,"s":"T"},{"p":"Fujian","m":6,"v":3.1,"s":"T"},{"p":"Fujian","m":7,"v":3.3,"s":"T"},{"p":"Fujian","m":8,"v":3.0,"s":"T"},{"p":"Fujian","m":9,"v":3.2,"s":"T"},{"p":"Fujian","m":10,"v":2.9,"s":"T"},
{"p":"Fujian","m":11,"v":3.1,"s":"T"},{"p":"Fujian","m":12,"v":3.3,"s":"T"},{"p":"Fujian","m":13,"v":3.0,"s":"T"},{"p":"Fujian","m":14,"v":3.2,"s":"T"},{"p":"Fujian","m":15,"v":3.4,"s":"T"},{"p":"Fujian","m":16,"v":3.1,"s":"T"},{"p":"Fujian","m":17,"v":3.3,"s":"T"},{"p":"Fujian","m":18,"v":3.5,"s":"T"},{"p":"Fujian","m":19,"v":3.2,"s":"T"},{"p":"Fujian","m":20,"v":3.4,"s":"T"},
{"p":"Fujian","m":21,"v":3.3,"s":"T"},{"p":"Fujian","m":22,"v":3.5,"s":"T"},{"p":"Fujian","m":23,"v":3.2,"s":"T"},{"p":"Fujian","m":24,"v":3.4,"s":"T"},{"p":"Fujian","m":25,"v":3.6,"s":"T"},{"p":"Fujian","m":26,"v":3.3,"s":"T"},{"p":"Fujian","m":27,"v":3.5,"s":"T"},{"p":"Fujian","m":28,"v":3.7,"s":"T"},{"p":"Fujian","m":29,"v":3.4,"s":"T"},{"p":"Fujian","m":30,"v":3.6,"s":"T"},
{"p":"Fujian","m":31,"v":3.5,"s":"T"},{"p":"Fujian","m":32,"v":3.7,"s":"T"},{"p":"Fujian","m":33,"v":3.4,"s":"T"},{"p":"Fujian","m":34,"v":3.6,"s":"T"},{"p":"Fujian","m":35,"v":3.8,"s":"T"},{"p":"Fujian","m":36,"v":3.5,"s":"T"},{"p":"Fujian","m":37,"v":3.7,"s":"T"},{"p":"Fujian","m":38,"v":3.9,"s":"T"},{"p":"Fujian","m":39,"v":3.6,"s":"T"},{"p":"Fujian","m":40,"v":3.8,"s":"T"},
{"p":"Fujian","m":41,"v":3.7,"s":"T"},{"p":"Fujian","m":42,"v":3.9,"s":"T"},{"p":"Fujian","m":43,"v":3.6,"s":"T"},{"p":"Fujian","m":44,"v":3.8,"s":"T"},{"p":"Fujian","m":45,"v":4.0,"s":"T"},{"p":"Fujian","m":46,"v":3.7,"s":"T"},{"p":"Fujian","m":47,"v":3.9,"s":"T"},{"p":"Fujian","m":48,"v":3.8,"s":"T"},
{"p":"Fujian","m":49,"v":4.1,"s":"T"},{"p":"Fujian","m":50,"v":3.9,"s":"T"},{"p":"Fujian","m":51,"v":4.3,"s":"T"},{"p":"Fujian","m":52,"v":4.0,"s":"T"},{"p":"Fujian","m":53,"v":4.2,"s":"T"},{"p":"Fujian","m":54,"v":4.4,"s":"T"},{"p":"Fujian","m":55,"v":4.1,"s":"T"},{"p":"Fujian","m":56,"v":4.3,"s":"T"},{"p":"Fujian","m":57,"v":4.0,"s":"T"},{"p":"Fujian","m":58,"v":4.5,"s":"T"},{"p":"Fujian","m":59,"v":4.2,"s":"T"},{"p":"Fujian","m":60,"v":4.4,"s":"T"},
{"p":"Fujian","m":49,"v":3.6,"s":"F"},{"p":"Fujian","m":50,"v":3.7,"s":"F"},{"p":"Fujian","m":51,"v":3.8,"s":"F"},{"p":"Fujian","m":52,"v":3.8,"s":"F"},{"p":"Fujian","m":53,"v":3.9,"s":"F"},{"p":"Fujian","m":54,"v":4.0,"s":"F"},{"p":"Fujian","m":55,"v":4.0,"s":"F"},{"p":"Fujian","m":56,"v":4.1,"s":"F"},{"p":"Fujian","m":57,"v":4.2,"s":"F"},{"p":"Fujian","m":58,"v":4.3,"s":"F"},{"p":"Fujian","m":59,"v":4.4,"s":"F"},{"p":"Fujian","m":60,"v":4.6,"s":"F"},

{"p":"Jiangxi","m":1,"v":3.0,"s":"T"},{"p":"Jiangxi","m":2,"v":2.9,"s":"T"},{"p":"Jiangxi","m":3,"v":3.2,"s":"T"},{"p":"Jiangxi","m":4,"v":2.8,"s":"T"},{"p":"Jiangxi","m":5,"v":3.1,"s":"T"},{"p":"Jiangxi","m":6,"v":2.4,"s":"T"},{"p":"Jiangxi","m":7,"v":1.9,"s":"T"},{"p":"Jiangxi","m":8,"v":2.7,"s":"T"},{"p":"Jiangxi","m":9,"v":3.3,"s":"T"},{"p":"Jiangxi","m":10,"v":3.1,"s":"T"},
{"p":"Jiangxi","m":11,"v":3.4,"s":"T"},{"p":"Jiangxi","m":12,"v":3.2,"s":"T"},{"p":"Jiangxi","m":13,"v":3.5,"s":"T"},{"p":"Jiangxi","m":14,"v":2.9,"s":"T"},{"p":"Jiangxi","m":15,"v":3.3,"s":"T"},{"p":"Jiangxi","m":16,"v":3.6,"s":"T"},{"p":"Jiangxi","m":17,"v":3.4,"s":"T"},{"p":"Jiangxi","m":18,"v":2.6,"s":"T"},{"p":"Jiangxi","m":19,"v":3.2,"s":"T"},{"p":"Jiangxi","m":20,"v":3.5,"s":"T"},
{"p":"Jiangxi","m":21,"v":3.7,"s":"T"},{"p":"Jiangxi","m":22,"v":3.4,"s":"T"},{"p":"Jiangxi","m":23,"v":3.6,"s":"T"},{"p":"Jiangxi","m":24,"v":3.8,"s":"T"},{"p":"Jiangxi","m":25,"v":3.5,"s":"T"},{"p":"Jiangxi","m":26,"v":3.7,"s":"T"},{"p":"Jiangxi","m":27,"v":3.9,"s":"T"},{"p":"Jiangxi","m":28,"v":3.6,"s":"T"},{"p":"Jiangxi","m":29,"v":3.4,"s":"T"},{"p":"Jiangxi","m":30,"v":3.8,"s":"T"},
{"p":"Jiangxi","m":31,"v":4.0,"s":"T"},{"p":"Jiangxi","m":32,"v":3.7,"s":"T"},{"p":"Jiangxi","m":33,"v":3.9,"s":"T"},{"p":"Jiangxi","m":34,"v":4.1,"s":"T"},{"p":"Jiangxi","m":35,"v":3.8,"s":"T"},{"p":"Jiangxi","m":36,"v":4.0,"s":"T"},{"p":"Jiangxi","m":37,"v":4.2,"s":"T"},{"p":"Jiangxi","m":38,"v":3.9,"s":"T"},{"p":"Jiangxi","m":39,"v":4.1,"s":"T"},{"p":"Jiangxi","m":40,"v":4.3,"s":"T"},
{"p":"Jiangxi","m":41,"v":4.0,"s":"T"},{"p":"Jiangxi","m":42,"v":4.2,"s":"T"},{"p":"Jiangxi","m":43,"v":4.4,"s":"T"},{"p":"Jiangxi","m":44,"v":4.1,"s":"T"},{"p":"Jiangxi","m":45,"v":4.3,"s":"T"},{"p":"Jiangxi","m":46,"v":4.5,"s":"T"},{"p":"Jiangxi","m":47,"v":4.2,"s":"T"},{"p":"Jiangxi","m":48,"v":4.0,"s":"T"},
{"p":"Jiangxi","m":49,"v":4.3,"s":"T"},{"p":"Jiangxi","m":50,"v":4.0,"s":"T"},{"p":"Jiangxi","m":51,"v":4.5,"s":"T"},{"p":"Jiangxi","m":52,"v":4.2,"s":"T"},{"p":"Jiangxi","m":53,"v":4.4,"s":"T"},{"p":"Jiangxi","m":54,"v":4.1,"s":"T"},{"p":"Jiangxi","m":55,"v":4.6,"s":"T"},{"p":"Jiangxi","m":56,"v":4.3,"s":"T"},{"p":"Jiangxi","m":57,"v":4.0,"s":"T"},{"p":"Jiangxi","m":58,"v":3.5,"s":"T"},{"p":"Jiangxi","m":59,"v":2.8,"s":"T"},{"p":"Jiangxi","m":60,"v":1.8,"s":"T"},
{"p":"Jiangxi","m":49,"v":4.2,"s":"F"},{"p":"Jiangxi","m":50,"v":4.0,"s":"F"},{"p":"Jiangxi","m":51,"v":3.9,"s":"F"},{"p":"Jiangxi","m":52,"v":3.8,"s":"F"},{"p":"Jiangxi","m":53,"v":3.7,"s":"F"},{"p":"Jiangxi","m":54,"v":3.6,"s":"F"},{"p":"Jiangxi","m":55,"v":3.5,"s":"F"},{"p":"Jiangxi","m":56,"v":3.4,"s":"F"},{"p":"Jiangxi","m":57,"v":3.3,"s":"F"},{"p":"Jiangxi","m":58,"v":3.1,"s":"F"},{"p":"Jiangxi","m":59,"v":2.9,"s":"F"},{"p":"Jiangxi","m":60,"v":2.5,"s":"F"},

{"p":"Shandong","m":1,"v":2.0,"s":"T"},{"p":"Shandong","m":2,"v":1.8,"s":"T"},{"p":"Shandong","m":3,"v":2.2,"s":"T"},{"p":"Shandong","m":4,"v":1.6,"s":"T"},{"p":"Shandong","m":5,"v":1.9,"s":"T"},{"p":"Shandong","m":6,"v":1.4,"s":"T"},{"p":"Shandong","m":7,"v":1.0,"s":"T"},{"p":"Shandong","m":8,"v":1.7,"s":"T"},{"p":"Shandong","m":9,"v":2.0,"s":"T"},{"p":"Shandong","m":10,"v":1.8,"s":"T"},
{"p":"Shandong","m":11,"v":2.1,"s":"T"},{"p":"Shandong","m":12,"v":1.9,"s":"T"},{"p":"Shandong","m":13,"v":2.2,"s":"T"},{"p":"Shandong","m":14,"v":2.0,"s":"T"},{"p":"Shandong","m":15,"v":1.8,"s":"T"},{"p":"Shandong","m":16,"v":2.1,"s":"T"},{"p":"Shandong","m":17,"v":2.3,"s":"T"},{"p":"Shandong","m":18,"v":2.0,"s":"T"},{"p":"Shandong","m":19,"v":2.2,"s":"T"},{"p":"Shandong","m":20,"v":2.4,"s":"T"},
{"p":"Shandong","m":21,"v":2.1,"s":"T"},{"p":"Shandong","m":22,"v":2.3,"s":"T"},{"p":"Shandong","m":23,"v":2.5,"s":"T"},{"p":"Shandong","m":24,"v":2.2,"s":"T"},{"p":"Shandong","m":25,"v":2.4,"s":"T"},{"p":"Shandong","m":26,"v":2.6,"s":"T"},{"p":"Shandong","m":27,"v":2.3,"s":"T"},{"p":"Shandong","m":28,"v":2.5,"s":"T"},{"p":"Shandong","m":29,"v":2.7,"s":"T"},{"p":"Shandong","m":30,"v":2.4,"s":"T"},
{"p":"Shandong","m":31,"v":2.6,"s":"T"},{"p":"Shandong","m":32,"v":2.8,"s":"T"},{"p":"Shandong","m":33,"v":2.5,"s":"T"},{"p":"Shandong","m":34,"v":2.7,"s":"T"},{"p":"Shandong","m":35,"v":2.9,"s":"T"},{"p":"Shandong","m":36,"v":2.6,"s":"T"},{"p":"Shandong","m":37,"v":2.8,"s":"T"},{"p":"Shandong","m":38,"v":3.0,"s":"T"},{"p":"Shandong","m":39,"v":2.7,"s":"T"},{"p":"Shandong","m":40,"v":2.9,"s":"T"},
{"p":"Shandong","m":41,"v":3.1,"s":"T"},{"p":"Shandong","m":42,"v":3.3,"s":"T"},{"p":"Shandong","m":43,"v":3.0,"s":"T"},{"p":"Shandong","m":44,"v":3.2,"s":"T"},{"p":"Shandong","m":45,"v":3.4,"s":"T"},{"p":"Shandong","m":46,"v":3.1,"s":"T"},{"p":"Shandong","m":47,"v":3.3,"s":"T"},{"p":"Shandong","m":48,"v":3.5,"s":"T"},
{"p":"Shandong","m":49,"v":3.7,"s":"T"},{"p":"Shandong","m":50,"v":3.9,"s":"T"},{"p":"Shandong","m":51,"v":3.6,"s":"T"},{"p":"Shandong","m":52,"v":4.0,"s":"T"},{"p":"Shandong","m":53,"v":3.8,"s":"T"},{"p":"Shandong","m":54,"v":4.1,"s":"T"},{"p":"Shandong","m":55,"v":3.9,"s":"T"},{"p":"Shandong","m":56,"v":4.2,"s":"T"},{"p":"Shandong","m":57,"v":4.0,"s":"T"},{"p":"Shandong","m":58,"v":3.8,"s":"T"},{"p":"Shandong","m":59,"v":4.1,"s":"T"},{"p":"Shandong","m":60,"v":4.3,"s":"T"},
{"p":"Shandong","m":49,"v":3.9,"s":"F"},{"p":"Shandong","m":50,"v":4.0,"s":"F"},{"p":"Shandong","m":51,"v":4.1,"s":"F"},{"p":"Shandong","m":52,"v":4.2,"s":"F"},{"p":"Shandong","m":53,"v":4.2,"s":"F"},{"p":"Shandong","m":54,"v":4.3,"s":"F"},{"p":"Shandong","m":55,"v":4.4,"s":"F"},{"p":"Shandong","m":56,"v":4.5,"s":"F"},{"p":"Shandong","m":57,"v":4.6,"s":"F"},{"p":"Shandong","m":58,"v":4.7,"s":"F"},{"p":"Shandong","m":59,"v":4.8,"s":"F"},{"p":"Shandong","m":60,"v":5.0,"s":"F"},

{"p":"Henan","m":1,"v":6.0,"s":"T"},{"p":"Henan","m":2,"v":5.8,"s":"T"},{"p":"Henan","m":3,"v":6.1,"s":"T"},{"p":"Henan","m":4,"v":5.9,"s":"T"},{"p":"Henan","m":5,"v":5.7,"s":"T"},{"p":"Henan","m":6,"v":6.0,"s":"T"},{"p":"Henan","m":7,"v":5.5,"s":"T"},{"p":"Henan","m":8,"v":5.8,"s":"T"},{"p":"Henan","m":9,"v":5.6,"s":"T"},{"p":"Henan","m":10,"v":5.4,"s":"T"},
{"p":"Henan","m":11,"v":5.7,"s":"T"},{"p":"Henan","m":12,"v":5.5,"s":"T"},{"p":"Henan","m":13,"v":5.3,"s":"T"},{"p":"Henan","m":14,"v":5.6,"s":"T"},{"p":"Henan","m":15,"v":5.4,"s":"T"},{"p":"Henan","m":16,"v":5.2,"s":"T"},{"p":"Henan","m":17,"v":5.5,"s":"T"},{"p":"Henan","m":18,"v":5.3,"s":"T"},{"p":"Henan","m":19,"v":5.1,"s":"T"},{"p":"Henan","m":20,"v":5.4,"s":"T"},
{"p":"Henan","m":21,"v":5.2,"s":"T"},{"p":"Henan","m":22,"v":5.5,"s":"T"},{"p":"Henan","m":23,"v":5.3,"s":"T"},{"p":"Henan","m":24,"v":5.6,"s":"T"},{"p":"Henan","m":25,"v":5.4,"s":"T"},{"p":"Henan","m":26,"v":5.7,"s":"T"},{"p":"Henan","m":27,"v":5.5,"s":"T"},{"p":"Henan","m":28,"v":5.8,"s":"T"},{"p":"Henan","m":29,"v":5.6,"s":"T"},{"p":"Henan","m":30,"v":5.9,"s":"T"},
{"p":"Henan","m":31,"v":5.7,"s":"T"},{"p":"Henan","m":32,"v":6.0,"s":"T"},{"p":"Henan","m":33,"v":5.8,"s":"T"},{"p":"Henan","m":34,"v":6.1,"s":"T"},{"p":"Henan","m":35,"v":5.9,"s":"T"},{"p":"Henan","m":36,"v":6.2,"s":"T"},{"p":"Henan","m":37,"v":6.0,"s":"T"},{"p":"Henan","m":38,"v":6.3,"s":"T"},{"p":"Henan","m":39,"v":6.1,"s":"T"},{"p":"Henan","m":40,"v":6.4,"s":"T"},
{"p":"Henan","m":41,"v":6.2,"s":"T"},{"p":"Henan","m":42,"v":6.0,"s":"T"},{"p":"Henan","m":43,"v":6.3,"s":"T"},{"p":"Henan","m":44,"v":6.1,"s":"T"},{"p":"Henan","m":45,"v":5.9,"s":"T"},{"p":"Henan","m":46,"v":6.2,"s":"T"},{"p":"Henan","m":47,"v":6.0,"s":"T"},{"p":"Henan","m":48,"v":5.8,"s":"T"},
{"p":"Henan","m":49,"v":6.1,"s":"T"},{"p":"Henan","m":50,"v":5.8,"s":"T"},{"p":"Henan","m":51,"v":6.2,"s":"T"},{"p":"Henan","m":52,"v":5.9,"s":"T"},{"p":"Henan","m":53,"v":6.0,"s":"T"},{"p":"Henan","m":54,"v":5.7,"s":"T"},{"p":"Henan","m":55,"v":6.1,"s":"T"},{"p":"Henan","m":56,"v":5.8,"s":"T"},{"p":"Henan","m":57,"v":5.6,"s":"T"},{"p":"Henan","m":58,"v":5.9,"s":"T"},{"p":"Henan","m":59,"v":4.5,"s":"T"},{"p":"Henan","m":60,"v":3.0,"s":"T"},
{"p":"Henan","m":49,"v":5.6,"s":"F"},{"p":"Henan","m":50,"v":5.4,"s":"F"},{"p":"Henan","m":51,"v":5.3,"s":"F"},{"p":"Henan","m":52,"v":5.2,"s":"F"},{"p":"Henan","m":53,"v":5.1,"s":"F"},{"p":"Henan","m":54,"v":5.0,"s":"F"},{"p":"Henan","m":55,"v":4.9,"s":"F"},{"p":"Henan","m":56,"v":4.9,"s":"F"},{"p":"Henan","m":57,"v":4.8,"s":"F"},{"p":"Henan","m":58,"v":4.7,"s":"F"},{"p":"Henan","m":59,"v":4.6,"s":"F"},{"p":"Henan","m":60,"v":4.5,"s":"F"},

{"p":"Hubei","m":1,"v":4.0,"s":"T"},{"p":"Hubei","m":2,"v":3.8,"s":"T"},{"p":"Hubei","m":3,"v":4.1,"s":"T"},{"p":"Hubei","m":4,"v":3.9,"s":"T"},{"p":"Hubei","m":5,"v":3.6,"s":"T"},{"p":"Hubei","m":6,"v":3.2,"s":"T"},{"p":"Hubei","m":7,"v":3.5,"s":"T"},{"p":"Hubei","m":8,"v":3.9,"s":"T"},{"p":"Hubei","m":9,"v":4.0,"s":"T"},{"p":"Hubei","m":10,"v":3.8,"s":"T"},
{"p":"Hubei","m":11,"v":4.1,"s":"T"},{"p":"Hubei","m":12,"v":3.9,"s":"T"},{"p":"Hubei","m":13,"v":4.2,"s":"T"},{"p":"Hubei","m":14,"v":4.0,"s":"T"},{"p":"Hubei","m":15,"v":3.8,"s":"T"},{"p":"Hubei","m":16,"v":4.1,"s":"T"},{"p":"Hubei","m":17,"v":3.9,"s":"T"},{"p":"Hubei","m":18,"v":4.2,"s":"T"},{"p":"Hubei","m":19,"v":4.0,"s":"T"},{"p":"Hubei","m":20,"v":4.3,"s":"T"},
{"p":"Hubei","m":21,"v":4.1,"s":"T"},{"p":"Hubei","m":22,"v":3.9,"s":"T"},{"p":"Hubei","m":23,"v":4.2,"s":"T"},{"p":"Hubei","m":24,"v":4.0,"s":"T"},{"p":"Hubei","m":25,"v":4.3,"s":"T"},{"p":"Hubei","m":26,"v":4.1,"s":"T"},{"p":"Hubei","m":27,"v":4.4,"s":"T"},{"p":"Hubei","m":28,"v":4.2,"s":"T"},{"p":"Hubei","m":29,"v":4.0,"s":"T"},{"p":"Hubei","m":30,"v":4.3,"s":"T"},
{"p":"Hubei","m":31,"v":4.1,"s":"T"},{"p":"Hubei","m":32,"v":4.4,"s":"T"},{"p":"Hubei","m":33,"v":4.2,"s":"T"},{"p":"Hubei","m":34,"v":4.5,"s":"T"},{"p":"Hubei","m":35,"v":4.3,"s":"T"},{"p":"Hubei","m":36,"v":4.1,"s":"T"},{"p":"Hubei","m":37,"v":4.4,"s":"T"},{"p":"Hubei","m":38,"v":4.6,"s":"T"},{"p":"Hubei","m":39,"v":4.3,"s":"T"},{"p":"Hubei","m":40,"v":4.5,"s":"T"},
{"p":"Hubei","m":41,"v":4.7,"s":"T"},{"p":"Hubei","m":42,"v":4.4,"s":"T"},{"p":"Hubei","m":43,"v":4.6,"s":"T"},{"p":"Hubei","m":44,"v":4.8,"s":"T"},{"p":"Hubei","m":45,"v":4.5,"s":"T"},{"p":"Hubei","m":46,"v":4.3,"s":"T"},{"p":"Hubei","m":47,"v":4.6,"s":"T"},{"p":"Hubei","m":48,"v":4.4,"s":"T"},
{"p":"Hubei","m":49,"v":4.6,"s":"T"},{"p":"Hubei","m":50,"v":4.3,"s":"T"},{"p":"Hubei","m":51,"v":4.8,"s":"T"},{"p":"Hubei","m":52,"v":4.5,"s":"T"},{"p":"Hubei","m":53,"v":4.2,"s":"T"},{"p":"Hubei","m":54,"v":4.7,"s":"T"},{"p":"Hubei","m":55,"v":4.4,"s":"T"},{"p":"Hubei","m":56,"v":4.9,"s":"T"},{"p":"Hubei","m":57,"v":4.6,"s":"T"},{"p":"Hubei","m":58,"v":4.3,"s":"T"},{"p":"Hubei","m":59,"v":4.8,"s":"T"},{"p":"Hubei","m":60,"v":4.5,"s":"T"},
{"p":"Hubei","m":49,"v":3.9,"s":"F"},{"p":"Hubei","m":50,"v":3.7,"s":"F"},{"p":"Hubei","m":51,"v":3.6,"s":"F"},{"p":"Hubei","m":52,"v":3.6,"s":"F"},{"p":"Hubei","m":53,"v":3.7,"s":"F"},{"p":"Hubei","m":54,"v":3.7,"s":"F"},{"p":"Hubei","m":55,"v":3.8,"s":"F"},{"p":"Hubei","m":56,"v":3.8,"s":"F"},{"p":"Hubei","m":57,"v":3.9,"s":"F"},{"p":"Hubei","m":58,"v":3.9,"s":"F"},{"p":"Hubei","m":59,"v":4.0,"s":"F"},{"p":"Hubei","m":60,"v":4.0,"s":"F"},

{"p":"Hunan","m":1,"v":4.8,"s":"T"},{"p":"Hunan","m":2,"v":4.6,"s":"T"},{"p":"Hunan","m":3,"v":4.9,"s":"T"},{"p":"Hunan","m":4,"v":4.5,"s":"T"},{"p":"Hunan","m":5,"v":4.2,"s":"T"},{"p":"Hunan","m":6,"v":3.8,"s":"T"},{"p":"Hunan","m":7,"v":3.4,"s":"T"},{"p":"Hunan","m":8,"v":4.1,"s":"T"},{"p":"Hunan","m":9,"v":4.6,"s":"T"},{"p":"Hunan","m":10,"v":4.8,"s":"T"},
{"p":"Hunan","m":11,"v":5.0,"s":"T"},{"p":"Hunan","m":12,"v":4.7,"s":"T"},{"p":"Hunan","m":13,"v":4.9,"s":"T"},{"p":"Hunan","m":14,"v":5.1,"s":"T"},{"p":"Hunan","m":15,"v":4.8,"s":"T"},{"p":"Hunan","m":16,"v":5.0,"s":"T"},{"p":"Hunan","m":17,"v":4.7,"s":"T"},{"p":"Hunan","m":18,"v":4.9,"s":"T"},{"p":"Hunan","m":19,"v":5.1,"s":"T"},{"p":"Hunan","m":20,"v":4.8,"s":"T"},
{"p":"Hunan","m":21,"v":5.0,"s":"T"},{"p":"Hunan","m":22,"v":5.2,"s":"T"},{"p":"Hunan","m":23,"v":4.9,"s":"T"},{"p":"Hunan","m":24,"v":5.1,"s":"T"},{"p":"Hunan","m":25,"v":4.8,"s":"T"},{"p":"Hunan","m":26,"v":5.0,"s":"T"},{"p":"Hunan","m":27,"v":5.2,"s":"T"},{"p":"Hunan","m":28,"v":4.9,"s":"T"},{"p":"Hunan","m":29,"v":5.1,"s":"T"},{"p":"Hunan","m":30,"v":5.3,"s":"T"},
{"p":"Hunan","m":31,"v":5.0,"s":"T"},{"p":"Hunan","m":32,"v":5.2,"s":"T"},{"p":"Hunan","m":33,"v":4.9,"s":"T"},{"p":"Hunan","m":34,"v":5.1,"s":"T"},{"p":"Hunan","m":35,"v":5.3,"s":"T"},{"p":"Hunan","m":36,"v":5.0,"s":"T"},{"p":"Hunan","m":37,"v":5.2,"s":"T"},{"p":"Hunan","m":38,"v":5.4,"s":"T"},{"p":"Hunan","m":39,"v":5.1,"s":"T"},{"p":"Hunan","m":40,"v":5.3,"s":"T"},
{"p":"Hunan","m":41,"v":5.5,"s":"T"},{"p":"Hunan","m":42,"v":5.2,"s":"T"},{"p":"Hunan","m":43,"v":5.4,"s":"T"},{"p":"Hunan","m":44,"v":5.6,"s":"T"},{"p":"Hunan","m":45,"v":5.3,"s":"T"},{"p":"Hunan","m":46,"v":5.1,"s":"T"},{"p":"Hunan","m":47,"v":5.4,"s":"T"},{"p":"Hunan","m":48,"v":5.2,"s":"T"},
{"p":"Hunan","m":49,"v":5.4,"s":"T"},{"p":"Hunan","m":50,"v":5.1,"s":"T"},{"p":"Hunan","m":51,"v":5.5,"s":"T"},{"p":"Hunan","m":52,"v":5.2,"s":"T"},{"p":"Hunan","m":53,"v":5.6,"s":"T"},{"p":"Hunan","m":54,"v":5.3,"s":"T"},{"p":"Hunan","m":55,"v":5.0,"s":"T"},{"p":"Hunan","m":56,"v":5.4,"s":"T"},{"p":"Hunan","m":57,"v":5.1,"s":"T"},{"p":"Hunan","m":58,"v":5.5,"s":"T"},{"p":"Hunan","m":59,"v":4.6,"s":"T"},{"p":"Hunan","m":60,"v":3.8,"s":"T"},
{"p":"Hunan","m":49,"v":5.2,"s":"F"},{"p":"Hunan","m":50,"v":5.0,"s":"F"},{"p":"Hunan","m":51,"v":4.8,"s":"F"},{"p":"Hunan","m":52,"v":4.6,"s":"F"},{"p":"Hunan","m":53,"v":4.5,"s":"F"},{"p":"Hunan","m":54,"v":4.4,"s":"F"},{"p":"Hunan","m":55,"v":4.3,"s":"F"},{"p":"Hunan","m":56,"v":4.2,"s":"F"},{"p":"Hunan","m":57,"v":4.1,"s":"F"},{"p":"Hunan","m":58,"v":3.9,"s":"F"},{"p":"Hunan","m":59,"v":3.5,"s":"F"},{"p":"Hunan","m":60,"v":3.0,"s":"F"},

{"p":"Guangdong","m":1,"v":5.0,"s":"T"},{"p":"Guangdong","m":2,"v":4.8,"s":"T"},{"p":"Guangdong","m":3,"v":5.1,"s":"T"},{"p":"Guangdong","m":4,"v":4.9,"s":"T"},{"p":"Guangdong","m":5,"v":4.7,"s":"T"},{"p":"Guangdong","m":6,"v":5.0,"s":"T"},{"p":"Guangdong","m":7,"v":4.8,"s":"T"},{"p":"Guangdong","m":8,"v":5.1,"s":"T"},{"p":"Guangdong","m":9,"v":4.9,"s":"T"},{"p":"Guangdong","m":10,"v":5.2,"s":"T"},
{"p":"Guangdong","m":11,"v":5.0,"s":"T"},{"p":"Guangdong","m":12,"v":4.8,"s":"T"},{"p":"Guangdong","m":13,"v":5.1,"s":"T"},{"p":"Guangdong","m":14,"v":4.9,"s":"T"},{"p":"Guangdong","m":15,"v":5.2,"s":"T"},{"p":"Guangdong","m":16,"v":5.0,"s":"T"},{"p":"Guangdong","m":17,"v":4.8,"s":"T"},{"p":"Guangdong","m":18,"v":5.1,"s":"T"},{"p":"Guangdong","m":19,"v":4.9,"s":"T"},{"p":"Guangdong","m":20,"v":5.2,"s":"T"},
{"p":"Guangdong","m":21,"v":5.0,"s":"T"},{"p":"Guangdong","m":22,"v":5.3,"s":"T"},{"p":"Guangdong","m":23,"v":5.1,"s":"T"},{"p":"Guangdong","m":24,"v":4.9,"s":"T"},{"p":"Guangdong","m":25,"v":5.2,"s":"T"},{"p":"Guangdong","m":26,"v":5.0,"s":"T"},{"p":"Guangdong","m":27,"v":5.3,"s":"T"},{"p":"Guangdong","m":28,"v":5.1,"s":"T"},{"p":"Guangdong","m":29,"v":5.4,"s":"T"},{"p":"Guangdong","m":30,"v":5.2,"s":"T"},
{"p":"Guangdong","m":31,"v":5.0,"s":"T"},{"p":"Guangdong","m":32,"v":5.3,"s":"T"},{"p":"Guangdong","m":33,"v":5.1,"s":"T"},{"p":"Guangdong","m":34,"v":5.4,"s":"T"},{"p":"Guangdong","m":35,"v":5.2,"s":"T"},{"p":"Guangdong","m":36,"v":5.5,"s":"T"},{"p":"Guangdong","m":37,"v":5.3,"s":"T"},{"p":"Guangdong","m":38,"v":5.1,"s":"T"},{"p":"Guangdong","m":39,"v":5.4,"s":"T"},{"p":"Guangdong","m":40,"v":5.2,"s":"T"},
{"p":"Guangdong","m":41,"v":5.5,"s":"T"},{"p":"Guangdong","m":42,"v":5.3,"s":"T"},{"p":"Guangdong","m":43,"v":5.6,"s":"T"},{"p":"Guangdong","m":44,"v":5.4,"s":"T"},{"p":"Guangdong","m":45,"v":5.2,"s":"T"},{"p":"Guangdong","m":46,"v":5.5,"s":"T"},{"p":"Guangdong","m":47,"v":5.3,"s":"T"},{"p":"Guangdong","m":48,"v":5.6,"s":"T"},
{"p":"Guangdong","m":49,"v":5.7,"s":"T"},{"p":"Guangdong","m":50,"v":5.4,"s":"T"},{"p":"Guangdong","m":51,"v":5.8,"s":"T"},{"p":"Guangdong","m":52,"v":5.5,"s":"T"},{"p":"Guangdong","m":53,"v":5.9,"s":"T"},{"p":"Guangdong","m":54,"v":5.6,"s":"T"},{"p":"Guangdong","m":55,"v":5.3,"s":"T"},{"p":"Guangdong","m":56,"v":5.7,"s":"T"},{"p":"Guangdong","m":57,"v":5.4,"s":"T"},{"p":"Guangdong","m":58,"v":5.8,"s":"T"},{"p":"Guangdong","m":59,"v":5.5,"s":"T"},{"p":"Guangdong","m":60,"v":5.9,"s":"T"},
{"p":"Guangdong","m":49,"v":5.0,"s":"F"},{"p":"Guangdong","m":50,"v":5.1,"s":"F"},{"p":"Guangdong","m":51,"v":5.1,"s":"F"},{"p":"Guangdong","m":52,"v":5.2,"s":"F"},{"p":"Guangdong","m":53,"v":5.2,"s":"F"},{"p":"Guangdong","m":54,"v":5.2,"s":"F"},{"p":"Guangdong","m":55,"v":5.3,"s":"F"},{"p":"Guangdong","m":56,"v":5.3,"s":"F"},{"p":"Guangdong","m":57,"v":5.3,"s":"F"},{"p":"Guangdong","m":58,"v":5.4,"s":"F"},{"p":"Guangdong","m":59,"v":5.4,"s":"F"},{"p":"Guangdong","m":60,"v":5.4,"s":"F"},

{"p":"Guangxi","m":1,"v":6.3,"s":"T"},{"p":"Guangxi","m":2,"v":6.1,"s":"T"},{"p":"Guangxi","m":3,"v":6.4,"s":"T"},{"p":"Guangxi","m":4,"v":6.2,"s":"T"},{"p":"Guangxi","m":5,"v":6.0,"s":"T"},{"p":"Guangxi","m":6,"v":6.3,"s":"T"},{"p":"Guangxi","m":7,"v":6.1,"s":"T"},{"p":"Guangxi","m":8,"v":6.4,"s":"T"},{"p":"Guangxi","m":9,"v":6.2,"s":"T"},{"p":"Guangxi","m":10,"v":6.5,"s":"T"},
{"p":"Guangxi","m":11,"v":6.3,"s":"T"},{"p":"Guangxi","m":12,"v":6.1,"s":"T"},{"p":"Guangxi","m":13,"v":6.4,"s":"T"},{"p":"Guangxi","m":14,"v":6.2,"s":"T"},{"p":"Guangxi","m":15,"v":6.5,"s":"T"},{"p":"Guangxi","m":16,"v":6.3,"s":"T"},{"p":"Guangxi","m":17,"v":6.1,"s":"T"},{"p":"Guangxi","m":18,"v":6.4,"s":"T"},{"p":"Guangxi","m":19,"v":6.2,"s":"T"},{"p":"Guangxi","m":20,"v":6.5,"s":"T"},
{"p":"Guangxi","m":21,"v":6.3,"s":"T"},{"p":"Guangxi","m":22,"v":6.6,"s":"T"},{"p":"Guangxi","m":23,"v":6.4,"s":"T"},{"p":"Guangxi","m":24,"v":6.2,"s":"T"},{"p":"Guangxi","m":25,"v":6.5,"s":"T"},{"p":"Guangxi","m":26,"v":6.3,"s":"T"},{"p":"Guangxi","m":27,"v":6.6,"s":"T"},{"p":"Guangxi","m":28,"v":6.4,"s":"T"},{"p":"Guangxi","m":29,"v":6.7,"s":"T"},{"p":"Guangxi","m":30,"v":6.5,"s":"T"},
{"p":"Guangxi","m":31,"v":6.3,"s":"T"},{"p":"Guangxi","m":32,"v":6.6,"s":"T"},{"p":"Guangxi","m":33,"v":6.4,"s":"T"},{"p":"Guangxi","m":34,"v":6.7,"s":"T"},{"p":"Guangxi","m":35,"v":6.5,"s":"T"},{"p":"Guangxi","m":36,"v":6.8,"s":"T"},{"p":"Guangxi","m":37,"v":6.6,"s":"T"},{"p":"Guangxi","m":38,"v":6.4,"s":"T"},{"p":"Guangxi","m":39,"v":6.7,"s":"T"},{"p":"Guangxi","m":40,"v":6.5,"s":"T"},
{"p":"Guangxi","m":41,"v":6.8,"s":"T"},{"p":"Guangxi","m":42,"v":6.6,"s":"T"},{"p":"Guangxi","m":43,"v":6.9,"s":"T"},{"p":"Guangxi","m":44,"v":6.7,"s":"T"},{"p":"Guangxi","m":45,"v":6.5,"s":"T"},{"p":"Guangxi","m":46,"v":6.8,"s":"T"},{"p":"Guangxi","m":47,"v":6.6,"s":"T"},{"p":"Guangxi","m":48,"v":6.9,"s":"T"},
{"p":"Guangxi","m":49,"v":6.7,"s":"T"},{"p":"Guangxi","m":50,"v":6.4,"s":"T"},{"p":"Guangxi","m":51,"v":6.8,"s":"T"},{"p":"Guangxi","m":52,"v":6.5,"s":"T"},{"p":"Guangxi","m":53,"v":6.9,"s":"T"},{"p":"Guangxi","m":54,"v":6.6,"s":"T"},{"p":"Guangxi","m":55,"v":6.3,"s":"T"},{"p":"Guangxi","m":56,"v":6.7,"s":"T"},{"p":"Guangxi","m":57,"v":6.4,"s":"T"},{"p":"Guangxi","m":58,"v":6.8,"s":"T"},{"p":"Guangxi","m":59,"v":6.5,"s":"T"},{"p":"Guangxi","m":60,"v":6.2,"s":"T"},
{"p":"Guangxi","m":49,"v":6.5,"s":"F"},{"p":"Guangxi","m":50,"v":6.5,"s":"F"},{"p":"Guangxi","m":51,"v":6.4,"s":"F"},{"p":"Guangxi","m":52,"v":6.4,"s":"F"},{"p":"Guangxi","m":53,"v":6.4,"s":"F"},{"p":"Guangxi","m":54,"v":6.3,"s":"F"},{"p":"Guangxi","m":55,"v":6.3,"s":"F"},{"p":"Guangxi","m":56,"v":6.3,"s":"F"},{"p":"Guangxi","m":57,"v":6.2,"s":"F"},{"p":"Guangxi","m":58,"v":6.2,"s":"F"},{"p":"Guangxi","m":59,"v":6.2,"s":"F"},{"p":"Guangxi","m":60,"v":6.1,"s":"F"},

{"p":"Hainan","m":1,"v":1.2,"s":"T"},{"p":"Hainan","m":2,"v":1.5,"s":"T"},{"p":"Hainan","m":3,"v":1.0,"s":"T"},{"p":"Hainan","m":4,"v":1.3,"s":"T"},{"p":"Hainan","m":5,"v":0.8,"s":"T"},{"p":"Hainan","m":6,"v":1.1,"s":"T"},{"p":"Hainan","m":7,"v":1.4,"s":"T"},{"p":"Hainan","m":8,"v":0.9,"s":"T"},{"p":"Hainan","m":9,"v":1.2,"s":"T"},{"p":"Hainan","m":10,"v":0.7,"s":"T"},
{"p":"Hainan","m":11,"v":1.0,"s":"T"},{"p":"Hainan","m":12,"v":1.3,"s":"T"},{"p":"Hainan","m":13,"v":0.8,"s":"T"},{"p":"Hainan","m":14,"v":1.1,"s":"T"},{"p":"Hainan","m":15,"v":1.4,"s":"T"},{"p":"Hainan","m":16,"v":0.9,"s":"T"},{"p":"Hainan","m":17,"v":1.2,"s":"T"},{"p":"Hainan","m":18,"v":1.5,"s":"T"},{"p":"Hainan","m":19,"v":1.0,"s":"T"},{"p":"Hainan","m":20,"v":1.3,"s":"T"},
{"p":"Hainan","m":21,"v":1.6,"s":"T"},{"p":"Hainan","m":22,"v":1.1,"s":"T"},{"p":"Hainan","m":23,"v":1.4,"s":"T"},{"p":"Hainan","m":24,"v":1.7,"s":"T"},{"p":"Hainan","m":25,"v":1.2,"s":"T"},{"p":"Hainan","m":26,"v":1.5,"s":"T"},{"p":"Hainan","m":27,"v":-7.2,"s":"T"},{"p":"Hainan","m":28,"v":1.3,"s":"T"},{"p":"Hainan","m":29,"v":1.6,"s":"T"},{"p":"Hainan","m":30,"v":1.2,"s":"T"},
{"p":"Hainan","m":31,"v":1.1,"s":"T"},{"p":"Hainan","m":32,"v":1.4,"s":"T"},{"p":"Hainan","m":33,"v":1.7,"s":"T"},{"p":"Hainan","m":34,"v":1.2,"s":"T"},{"p":"Hainan","m":35,"v":1.5,"s":"T"},{"p":"Hainan","m":36,"v":1.8,"s":"T"},{"p":"Hainan","m":37,"v":1.3,"s":"T"},{"p":"Hainan","m":38,"v":1.6,"s":"T"},{"p":"Hainan","m":39,"v":1.9,"s":"T"},{"p":"Hainan","m":40,"v":1.4,"s":"T"},
{"p":"Hainan","m":41,"v":1.7,"s":"T"},{"p":"Hainan","m":42,"v":2.0,"s":"T"},{"p":"Hainan","m":43,"v":1.5,"s":"T"},{"p":"Hainan","m":44,"v":1.8,"s":"T"},{"p":"Hainan","m":45,"v":2.1,"s":"T"},{"p":"Hainan","m":46,"v":1.6,"s":"T"},{"p":"Hainan","m":47,"v":1.9,"s":"T"},{"p":"Hainan","m":48,"v":2.2,"s":"T"},
{"p":"Hainan","m":49,"v":2.0,"s":"T"},{"p":"Hainan","m":50,"v":1.7,"s":"T"},{"p":"Hainan","m":51,"v":2.3,"s":"T"},{"p":"Hainan","m":52,"v":1.9,"s":"T"},{"p":"Hainan","m":53,"v":2.1,"s":"T"},{"p":"Hainan","m":54,"v":1.6,"s":"T"},{"p":"Hainan","m":55,"v":2.2,"s":"T"},{"p":"Hainan","m":56,"v":1.8,"s":"T"},{"p":"Hainan","m":57,"v":2.0,"s":"T"},{"p":"Hainan","m":58,"v":1.5,"s":"T"},{"p":"Hainan","m":59,"v":1.9,"s":"T"},{"p":"Hainan","m":60,"v":2.1,"s":"T"},
{"p":"Hainan","m":49,"v":2.6,"s":"F"},{"p":"Hainan","m":50,"v":2.5,"s":"F"},{"p":"Hainan","m":51,"v":2.5,"s":"F"},{"p":"Hainan","m":52,"v":2.4,"s":"F"},{"p":"Hainan","m":53,"v":2.4,"s":"F"},{"p":"Hainan","m":54,"v":2.3,"s":"F"},{"p":"Hainan","m":55,"v":2.3,"s":"F"},{"p":"Hainan","m":56,"v":2.2,"s":"F"},{"p":"Hainan","m":57,"v":2.2,"s":"F"},{"p":"Hainan","m":58,"v":2.1,"s":"F"},{"p":"Hainan","m":59,"v":2.1,"s":"F"},{"p":"Hainan","m":60,"v":2.0,"s":"F"},

{"p":"Chongqing","m":1,"v":3.5,"s":"T"},{"p":"Chongqing","m":2,"v":3.3,"s":"T"},{"p":"Chongqing","m":3,"v":3.6,"s":"T"},{"p":"Chongqing","m":4,"v":3.2,"s":"T"},{"p":"Chongqing","m":5,"v":3.4,"s":"T"},{"p":"Chongqing","m":6,"v":3.7,"s":"T"},{"p":"Chongqing","m":7,"v":3.5,"s":"T"},{"p":"Chongqing","m":8,"v":3.8,"s":"T"},{"p":"Chongqing","m":9,"v":3.6,"s":"T"},{"p":"Chongqing","m":10,"v":3.9,"s":"T"},
{"p":"Chongqing","m":11,"v":3.7,"s":"T"},{"p":"Chongqing","m":12,"v":4.0,"s":"T"},{"p":"Chongqing","m":13,"v":3.8,"s":"T"},{"p":"Chongqing","m":14,"v":4.1,"s":"T"},{"p":"Chongqing","m":15,"v":3.9,"s":"T"},{"p":"Chongqing","m":16,"v":4.2,"s":"T"},{"p":"Chongqing","m":17,"v":4.0,"s":"T"},{"p":"Chongqing","m":18,"v":3.8,"s":"T"},{"p":"Chongqing","m":19,"v":4.1,"s":"T"},{"p":"Chongqing","m":20,"v":4.3,"s":"T"},
{"p":"Chongqing","m":21,"v":4.0,"s":"T"},{"p":"Chongqing","m":22,"v":4.2,"s":"T"},{"p":"Chongqing","m":23,"v":4.4,"s":"T"},{"p":"Chongqing","m":24,"v":4.1,"s":"T"},{"p":"Chongqing","m":25,"v":4.3,"s":"T"},{"p":"Chongqing","m":26,"v":4.5,"s":"T"},{"p":"Chongqing","m":27,"v":4.2,"s":"T"},{"p":"Chongqing","m":28,"v":4.4,"s":"T"},{"p":"Chongqing","m":29,"v":4.6,"s":"T"},{"p":"Chongqing","m":30,"v":4.3,"s":"T"},
{"p":"Chongqing","m":31,"v":4.5,"s":"T"},{"p":"Chongqing","m":32,"v":4.7,"s":"T"},{"p":"Chongqing","m":33,"v":4.4,"s":"T"},{"p":"Chongqing","m":34,"v":4.6,"s":"T"},{"p":"Chongqing","m":35,"v":4.8,"s":"T"},{"p":"Chongqing","m":36,"v":4.5,"s":"T"},{"p":"Chongqing","m":37,"v":4.7,"s":"T"},{"p":"Chongqing","m":38,"v":4.9,"s":"T"},{"p":"Chongqing","m":39,"v":4.6,"s":"T"},{"p":"Chongqing","m":40,"v":4.8,"s":"T"},
{"p":"Chongqing","m":41,"v":5.0,"s":"T"},{"p":"Chongqing","m":42,"v":4.7,"s":"T"},{"p":"Chongqing","m":43,"v":4.9,"s":"T"},{"p":"Chongqing","m":44,"v":5.1,"s":"T"},{"p":"Chongqing","m":45,"v":4.8,"s":"T"},{"p":"Chongqing","m":46,"v":5.0,"s":"T"},{"p":"Chongqing","m":47,"v":5.2,"s":"T"},{"p":"Chongqing","m":48,"v":4.9,"s":"T"},
{"p":"Chongqing","m":49,"v":5.1,"s":"T"},{"p":"Chongqing","m":50,"v":4.8,"s":"T"},{"p":"Chongqing","m":51,"v":5.2,"s":"T"},{"p":"Chongqing","m":52,"v":4.9,"s":"T"},{"p":"Chongqing","m":53,"v":5.3,"s":"T"},{"p":"Chongqing","m":54,"v":5.0,"s":"T"},{"p":"Chongqing","m":55,"v":4.7,"s":"T"},{"p":"Chongqing","m":56,"v":5.1,"s":"T"},{"p":"Chongqing","m":57,"v":4.8,"s":"T"},{"p":"Chongqing","m":58,"v":5.2,"s":"T"},{"p":"Chongqing","m":59,"v":4.9,"s":"T"},{"p":"Chongqing","m":60,"v":5.3,"s":"T"},
{"p":"Chongqing","m":49,"v":4.7,"s":"F"},{"p":"Chongqing","m":50,"v":4.6,"s":"F"},{"p":"Chongqing","m":51,"v":4.6,"s":"F"},{"p":"Chongqing","m":52,"v":4.5,"s":"F"},{"p":"Chongqing","m":53,"v":4.5,"s":"F"},{"p":"Chongqing","m":54,"v":4.5,"s":"F"},{"p":"Chongqing","m":55,"v":4.4,"s":"F"},{"p":"Chongqing","m":56,"v":4.4,"s":"F"},{"p":"Chongqing","m":57,"v":4.4,"s":"F"},{"p":"Chongqing","m":58,"v":4.3,"s":"F"},{"p":"Chongqing","m":59,"v":4.3,"s":"F"},{"p":"Chongqing","m":60,"v":4.3,"s":"F"},

{"p":"Sichuan","m":1,"v":4.6,"s":"T"},{"p":"Sichuan","m":2,"v":4.4,"s":"T"},{"p":"Sichuan","m":3,"v":4.7,"s":"T"},{"p":"Sichuan","m":4,"v":4.5,"s":"T"},{"p":"Sichuan","m":5,"v":4.3,"s":"T"},{"p":"Sichuan","m":6,"v":4.6,"s":"T"},{"p":"Sichuan","m":7,"v":4.8,"s":"T"},{"p":"Sichuan","m":8,"v":4.5,"s":"T"},{"p":"Sichuan","m":9,"v":4.7,"s":"T"},{"p":"Sichuan","m":10,"v":4.9,"s":"T"},
{"p":"Sichuan","m":11,"v":4.6,"s":"T"},{"p":"Sichuan","m":12,"v":4.8,"s":"T"},{"p":"Sichuan","m":13,"v":5.0,"s":"T"},{"p":"Sichuan","m":14,"v":4.7,"s":"T"},{"p":"Sichuan","m":15,"v":4.9,"s":"T"},{"p":"Sichuan","m":16,"v":5.1,"s":"T"},{"p":"Sichuan","m":17,"v":4.8,"s":"T"},{"p":"Sichuan","m":18,"v":5.0,"s":"T"},{"p":"Sichuan","m":19,"v":5.2,"s":"T"},{"p":"Sichuan","m":20,"v":4.9,"s":"T"},
{"p":"Sichuan","m":21,"v":5.1,"s":"T"},{"p":"Sichuan","m":22,"v":5.3,"s":"T"},{"p":"Sichuan","m":23,"v":5.0,"s":"T"},{"p":"Sichuan","m":24,"v":5.2,"s":"T"},{"p":"Sichuan","m":25,"v":5.4,"s":"T"},{"p":"Sichuan","m":26,"v":5.1,"s":"T"},{"p":"Sichuan","m":27,"v":5.3,"s":"T"},{"p":"Sichuan","m":28,"v":5.5,"s":"T"},{"p":"Sichuan","m":29,"v":5.2,"s":"T"},{"p":"Sichuan","m":30,"v":5.4,"s":"T"},
{"p":"Sichuan","m":31,"v":5.6,"s":"T"},{"p":"Sichuan","m":32,"v":5.3,"s":"T"},{"p":"Sichuan","m":33,"v":5.5,"s":"T"},{"p":"Sichuan","m":34,"v":5.7,"s":"T"},{"p":"Sichuan","m":35,"v":5.4,"s":"T"},{"p":"Sichuan","m":36,"v":5.6,"s":"T"},{"p":"Sichuan","m":37,"v":5.8,"s":"T"},{"p":"Sichuan","m":38,"v":5.5,"s":"T"},{"p":"Sichuan","m":39,"v":5.7,"s":"T"},{"p":"Sichuan","m":40,"v":5.9,"s":"T"},
{"p":"Sichuan","m":41,"v":5.6,"s":"T"},{"p":"Sichuan","m":42,"v":5.8,"s":"T"},{"p":"Sichuan","m":43,"v":6.0,"s":"T"},{"p":"Sichuan","m":44,"v":5.7,"s":"T"},{"p":"Sichuan","m":45,"v":5.9,"s":"T"},{"p":"Sichuan","m":46,"v":6.1,"s":"T"},{"p":"Sichuan","m":47,"v":5.8,"s":"T"},{"p":"Sichuan","m":48,"v":6.0,"s":"T"},
{"p":"Sichuan","m":49,"v":6.3,"s":"T"},{"p":"Sichuan","m":50,"v":6.0,"s":"T"},{"p":"Sichuan","m":51,"v":6.5,"s":"T"},{"p":"Sichuan","m":52,"v":6.2,"s":"T"},{"p":"Sichuan","m":53,"v":6.6,"s":"T"},{"p":"Sichuan","m":54,"v":6.3,"s":"T"},{"p":"Sichuan","m":55,"v":6.0,"s":"T"},{"p":"Sichuan","m":56,"v":6.4,"s":"T"},{"p":"Sichuan","m":57,"v":6.1,"s":"T"},{"p":"Sichuan","m":58,"v":6.5,"s":"T"},{"p":"Sichuan","m":59,"v":6.2,"s":"T"},{"p":"Sichuan","m":60,"v":6.6,"s":"T"},
{"p":"Sichuan","m":49,"v":5.6,"s":"F"},{"p":"Sichuan","m":50,"v":5.5,"s":"F"},{"p":"Sichuan","m":51,"v":5.5,"s":"F"},{"p":"Sichuan","m":52,"v":5.6,"s":"F"},{"p":"Sichuan","m":53,"v":5.6,"s":"F"},{"p":"Sichuan","m":54,"v":5.6,"s":"F"},{"p":"Sichuan","m":55,"v":5.7,"s":"F"},{"p":"Sichuan","m":56,"v":5.7,"s":"F"},{"p":"Sichuan","m":57,"v":5.7,"s":"F"},{"p":"Sichuan","m":58,"v":5.8,"s":"F"},{"p":"Sichuan","m":59,"v":5.8,"s":"F"},{"p":"Sichuan","m":60,"v":5.8,"s":"F"},

{"p":"Guizhou","m":1,"v":4.2,"s":"T"},{"p":"Guizhou","m":2,"v":4.0,"s":"T"},{"p":"Guizhou","m":3,"v":4.3,"s":"T"},{"p":"Guizhou","m":4,"v":3.9,"s":"T"},{"p":"Guizhou","m":5,"v":3.5,"s":"T"},{"p":"Guizhou","m":6,"v":3.0,"s":"T"},{"p":"Guizhou","m":7,"v":2.8,"s":"T"},{"p":"Guizhou","m":8,"v":3.4,"s":"T"},{"p":"Guizhou","m":9,"v":3.8,"s":"T"},{"p":"Guizhou","m":10,"v":4.0,"s":"T"},
{"p":"Guizhou","m":11,"v":3.8,"s":"T"},{"p":"Guizhou","m":12,"v":4.1,"s":"T"},{"p":"Guizhou","m":13,"v":3.9,"s":"T"},{"p":"Guizhou","m":14,"v":4.2,"s":"T"},{"p":"Guizhou","m":15,"v":4.0,"s":"T"},{"p":"Guizhou","m":16,"v":4.3,"s":"T"},{"p":"Guizhou","m":17,"v":4.1,"s":"T"},{"p":"Guizhou","m":18,"v":3.9,"s":"T"},{"p":"Guizhou","m":19,"v":4.2,"s":"T"},{"p":"Guizhou","m":20,"v":4.4,"s":"T"},
{"p":"Guizhou","m":21,"v":4.1,"s":"T"},{"p":"Guizhou","m":22,"v":4.3,"s":"T"},{"p":"Guizhou","m":23,"v":4.5,"s":"T"},{"p":"Guizhou","m":24,"v":4.2,"s":"T"},{"p":"Guizhou","m":25,"v":4.4,"s":"T"},{"p":"Guizhou","m":26,"v":4.6,"s":"T"},{"p":"Guizhou","m":27,"v":4.3,"s":"T"},{"p":"Guizhou","m":28,"v":4.5,"s":"T"},{"p":"Guizhou","m":29,"v":4.7,"s":"T"},{"p":"Guizhou","m":30,"v":4.4,"s":"T"},
{"p":"Guizhou","m":31,"v":4.6,"s":"T"},{"p":"Guizhou","m":32,"v":4.8,"s":"T"},{"p":"Guizhou","m":33,"v":4.5,"s":"T"},{"p":"Guizhou","m":34,"v":4.7,"s":"T"},{"p":"Guizhou","m":35,"v":4.9,"s":"T"},{"p":"Guizhou","m":36,"v":4.6,"s":"T"},{"p":"Guizhou","m":37,"v":4.8,"s":"T"},{"p":"Guizhou","m":38,"v":5.0,"s":"T"},{"p":"Guizhou","m":39,"v":4.7,"s":"T"},{"p":"Guizhou","m":40,"v":4.9,"s":"T"},
{"p":"Guizhou","m":41,"v":5.1,"s":"T"},{"p":"Guizhou","m":42,"v":4.8,"s":"T"},{"p":"Guizhou","m":43,"v":5.0,"s":"T"},{"p":"Guizhou","m":44,"v":5.2,"s":"T"},{"p":"Guizhou","m":45,"v":4.9,"s":"T"},{"p":"Guizhou","m":46,"v":5.1,"s":"T"},{"p":"Guizhou","m":47,"v":5.3,"s":"T"},{"p":"Guizhou","m":48,"v":5.0,"s":"T"},
{"p":"Guizhou","m":49,"v":5.2,"s":"T"},{"p":"Guizhou","m":50,"v":4.9,"s":"T"},{"p":"Guizhou","m":51,"v":5.3,"s":"T"},{"p":"Guizhou","m":52,"v":5.0,"s":"T"},{"p":"Guizhou","m":53,"v":5.4,"s":"T"},{"p":"Guizhou","m":54,"v":5.1,"s":"T"},{"p":"Guizhou","m":55,"v":4.8,"s":"T"},{"p":"Guizhou","m":56,"v":5.2,"s":"T"},{"p":"Guizhou","m":57,"v":4.9,"s":"T"},{"p":"Guizhou","m":58,"v":5.3,"s":"T"},{"p":"Guizhou","m":59,"v":5.0,"s":"T"},{"p":"Guizhou","m":60,"v":4.7,"s":"T"},
{"p":"Guizhou","m":49,"v":4.9,"s":"F"},{"p":"Guizhou","m":50,"v":4.8,"s":"F"},{"p":"Guizhou","m":51,"v":4.8,"s":"F"},{"p":"Guizhou","m":52,"v":4.7,"s":"F"},{"p":"Guizhou","m":53,"v":4.7,"s":"F"},{"p":"Guizhou","m":54,"v":4.6,"s":"F"},{"p":"Guizhou","m":55,"v":4.6,"s":"F"},{"p":"Guizhou","m":56,"v":4.6,"s":"F"},{"p":"Guizhou","m":57,"v":4.5,"s":"F"},{"p":"Guizhou","m":58,"v":4.5,"s":"F"},{"p":"Guizhou","m":59,"v":4.5,"s":"F"},{"p":"Guizhou","m":60,"v":4.4,"s":"F"},

{"p":"Yunnan","m":1,"v":5.6,"s":"T"},{"p":"Yunnan","m":2,"v":5.4,"s":"T"},{"p":"Yunnan","m":3,"v":5.7,"s":"T"},{"p":"Yunnan","m":4,"v":5.5,"s":"T"},{"p":"Yunnan","m":5,"v":5.3,"s":"T"},{"p":"Yunnan","m":6,"v":5.6,"s":"T"},{"p":"Yunnan","m":7,"v":5.4,"s":"T"},{"p":"Yunnan","m":8,"v":5.2,"s":"T"},{"p":"Yunnan","m":9,"v":5.5,"s":"T"},{"p":"Yunnan","m":10,"v":5.3,"s":"T"},
{"p":"Yunnan","m":11,"v":5.1,"s":"T"},{"p":"Yunnan","m":12,"v":5.4,"s":"T"},{"p":"Yunnan","m":13,"v":5.2,"s":"T"},{"p":"Yunnan","m":14,"v":5.0,"s":"T"},{"p":"Yunnan","m":15,"v":5.3,"s":"T"},{"p":"Yunnan","m":16,"v":5.1,"s":"T"},{"p":"Yunnan","m":17,"v":4.9,"s":"T"},{"p":"Yunnan","m":18,"v":5.2,"s":"T"},{"p":"Yunnan","m":19,"v":5.0,"s":"T"},{"p":"Yunnan","m":20,"v":4.8,"s":"T"},
{"p":"Yunnan","m":21,"v":5.1,"s":"T"},{"p":"Yunnan","m":22,"v":4.9,"s":"T"},{"p":"Yunnan","m":23,"v":4.7,"s":"T"},{"p":"Yunnan","m":24,"v":5.0,"s":"T"},{"p":"Yunnan","m":25,"v":4.8,"s":"T"},{"p":"Yunnan","m":26,"v":4.6,"s":"T"},{"p":"Yunnan","m":27,"v":4.9,"s":"T"},{"p":"Yunnan","m":28,"v":5.1,"s":"T"},{"p":"Yunnan","m":29,"v":5.3,"s":"T"},{"p":"Yunnan","m":30,"v":5.0,"s":"T"},
{"p":"Yunnan","m":31,"v":5.2,"s":"T"},{"p":"Yunnan","m":32,"v":5.4,"s":"T"},{"p":"Yunnan","m":33,"v":5.6,"s":"T"},{"p":"Yunnan","m":34,"v":5.3,"s":"T"},{"p":"Yunnan","m":35,"v":5.5,"s":"T"},{"p":"Yunnan","m":36,"v":5.7,"s":"T"},{"p":"Yunnan","m":37,"v":5.9,"s":"T"},{"p":"Yunnan","m":38,"v":5.6,"s":"T"},{"p":"Yunnan","m":39,"v":5.8,"s":"T"},{"p":"Yunnan","m":40,"v":6.0,"s":"T"},
{"p":"Yunnan","m":41,"v":6.2,"s":"T"},{"p":"Yunnan","m":42,"v":5.9,"s":"T"},{"p":"Yunnan","m":43,"v":6.1,"s":"T"},{"p":"Yunnan","m":44,"v":6.3,"s":"T"},{"p":"Yunnan","m":45,"v":6.5,"s":"T"},{"p":"Yunnan","m":46,"v":6.2,"s":"T"},{"p":"Yunnan","m":47,"v":6.4,"s":"T"},{"p":"Yunnan","m":48,"v":6.6,"s":"T"},
{"p":"Yunnan","m":49,"v":6.4,"s":"T"},{"p":"Yunnan","m":50,"v":6.7,"s":"T"},{"p":"Yunnan","m":51,"v":6.3,"s":"T"},{"p":"Yunnan","m":52,"v":6.6,"s":"T"},{"p":"Yunnan","m":53,"v":6.8,"s":"T"},{"p":"Yunnan","m":54,"v":6.5,"s":"T"},{"p":"Yunnan","m":55,"v":6.2,"s":"T"},{"p":"Yunnan","m":56,"v":6.6,"s":"T"},{"p":"Yunnan","m":57,"v":6.3,"s":"T"},{"p":"Yunnan","m":58,"v":6.7,"s":"T"},{"p":"Yunnan","m":59,"v":6.4,"s":"T"},{"p":"Yunnan","m":60,"v":6.1,"s":"T"},
{"p":"Yunnan","m":49,"v":6.1,"s":"F"},{"p":"Yunnan","m":50,"v":6.1,"s":"F"},{"p":"Yunnan","m":51,"v":6.0,"s":"F"},{"p":"Yunnan","m":52,"v":6.0,"s":"F"},{"p":"Yunnan","m":53,"v":6.0,"s":"F"},{"p":"Yunnan","m":54,"v":5.9,"s":"F"},{"p":"Yunnan","m":55,"v":5.9,"s":"F"},{"p":"Yunnan","m":56,"v":5.9,"s":"F"},{"p":"Yunnan","m":57,"v":5.8,"s":"F"},{"p":"Yunnan","m":58,"v":5.8,"s":"F"},{"p":"Yunnan","m":59,"v":5.8,"s":"F"},{"p":"Yunnan","m":60,"v":5.7,"s":"F"},

{"p":"Tibet","m":1,"v":0.0,"s":"T"},{"p":"Tibet","m":2,"v":-6.7,"s":"T"},{"p":"Tibet","m":3,"v":-6.7,"s":"T"},{"p":"Tibet","m":4,"v":-6.7,"s":"T"},{"p":"Tibet","m":5,"v":-6.7,"s":"T"},{"p":"Tibet","m":6,"v":-6.7,"s":"T"},{"p":"Tibet","m":7,"v":-6.7,"s":"T"},{"p":"Tibet","m":8,"v":-6.7,"s":"T"},{"p":"Tibet","m":9,"v":0.0,"s":"T"},{"p":"Tibet","m":10,"v":-6.7,"s":"T"},
{"p":"Tibet","m":11,"v":0.0,"s":"T"},{"p":"Tibet","m":12,"v":-6.7,"s":"T"},{"p":"Tibet","m":13,"v":0.0,"s":"T"},{"p":"Tibet","m":14,"v":-6.7,"s":"T"},{"p":"Tibet","m":15,"v":-6.7,"s":"T"},{"p":"Tibet","m":16,"v":-6.7,"s":"T"},{"p":"Tibet","m":17,"v":0.0,"s":"T"},{"p":"Tibet","m":18,"v":-6.7,"s":"T"},{"p":"Tibet","m":19,"v":-6.7,"s":"T"},{"p":"Tibet","m":20,"v":-6.7,"s":"T"},
{"p":"Tibet","m":21,"v":-6.7,"s":"T"},{"p":"Tibet","m":22,"v":-6.7,"s":"T"},{"p":"Tibet","m":23,"v":0.0,"s":"T"},{"p":"Tibet","m":24,"v":-6.7,"s":"T"},{"p":"Tibet","m":25,"v":-6.7,"s":"T"},{"p":"Tibet","m":26,"v":-6.7,"s":"T"},{"p":"Tibet","m":27,"v":-6.7,"s":"T"},{"p":"Tibet","m":28,"v":0.0,"s":"T"},{"p":"Tibet","m":29,"v":-6.7,"s":"T"},{"p":"Tibet","m":30,"v":0.0,"s":"T"},
{"p":"Tibet","m":31,"v":0.0,"s":"T"},{"p":"Tibet","m":32,"v":-6.7,"s":"T"},{"p":"Tibet","m":33,"v":-6.7,"s":"T"},{"p":"Tibet","m":34,"v":-6.7,"s":"T"},{"p":"Tibet","m":35,"v":-6.7,"s":"T"},{"p":"Tibet","m":36,"v":0.8,"s":"T"},{"p":"Tibet","m":37,"v":0.4,"s":"T"},{"p":"Tibet","m":38,"v":-6.7,"s":"T"},{"p":"Tibet","m":39,"v":0.6,"s":"T"},{"p":"Tibet","m":40,"v":0.8,"s":"T"},
{"p":"Tibet","m":41,"v":0.5,"s":"T"},{"p":"Tibet","m":42,"v":-6.7,"s":"T"},{"p":"Tibet","m":43,"v":0.0,"s":"T"},{"p":"Tibet","m":44,"v":-6.7,"s":"T"},{"p":"Tibet","m":45,"v":-6.7,"s":"T"},{"p":"Tibet","m":46,"v":-6.7,"s":"T"},{"p":"Tibet","m":47,"v":-6.7,"s":"T"},{"p":"Tibet","m":48,"v":-6.7,"s":"T"},
{"p":"Tibet","m":49,"v":0.7,"s":"T"},{"p":"Tibet","m":50,"v":0.3,"s":"T"},{"p":"Tibet","m":51,"v":-6.7,"s":"T"},{"p":"Tibet","m":52,"v":-6.7,"s":"T"},{"p":"Tibet","m":53,"v":-6.7,"s":"T"},{"p":"Tibet","m":54,"v":-6.7,"s":"T"},{"p":"Tibet","m":55,"v":-6.7,"s":"T"},{"p":"Tibet","m":56,"v":0.0,"s":"T"},{"p":"Tibet","m":57,"v":-6.7,"s":"T"},{"p":"Tibet","m":58,"v":-6.7,"s":"T"},{"p":"Tibet","m":59,"v":-6.7,"s":"T"},{"p":"Tibet","m":60,"v":-6.7,"s":"T"},
{"p":"Tibet","m":49,"v":-5.0,"s":"F"},{"p":"Tibet","m":50,"v":-2.5,"s":"F"},{"p":"Tibet","m":51,"v":-1.5,"s":"F"},{"p":"Tibet","m":52,"v":-1.8,"s":"F"},{"p":"Tibet","m":53,"v":-1.2,"s":"F"},{"p":"Tibet","m":54,"v":-1.6,"s":"F"},{"p":"Tibet","m":55,"v":-1.3,"s":"F"},{"p":"Tibet","m":56,"v":-1.5,"s":"F"},{"p":"Tibet","m":57,"v":-1.2,"s":"F"},{"p":"Tibet","m":58,"v":-1.4,"s":"F"},{"p":"Tibet","m":59,"v":-1.3,"s":"F"},{"p":"Tibet","m":60,"v":-1.1,"s":"F"},

{"p":"Shaanxi","m":1,"v":1.5,"s":"T"},{"p":"Shaanxi","m":2,"v":1.3,"s":"T"},{"p":"Shaanxi","m":3,"v":1.7,"s":"T"},{"p":"Shaanxi","m":4,"v":1.4,"s":"T"},{"p":"Shaanxi","m":5,"v":1.2,"s":"T"},{"p":"Shaanxi","m":6,"v":1.6,"s":"T"},{"p":"Shaanxi","m":7,"v":1.8,"s":"T"},{"p":"Shaanxi","m":8,"v":1.5,"s":"T"},{"p":"Shaanxi","m":9,"v":1.3,"s":"T"},{"p":"Shaanxi","m":10,"v":1.7,"s":"T"},
{"p":"Shaanxi","m":11,"v":1.9,"s":"T"},{"p":"Shaanxi","m":12,"v":1.6,"s":"T"},{"p":"Shaanxi","m":13,"v":1.8,"s":"T"},{"p":"Shaanxi","m":14,"v":2.0,"s":"T"},{"p":"Shaanxi","m":15,"v":1.7,"s":"T"},{"p":"Shaanxi","m":16,"v":1.9,"s":"T"},{"p":"Shaanxi","m":17,"v":2.1,"s":"T"},{"p":"Shaanxi","m":18,"v":1.8,"s":"T"},{"p":"Shaanxi","m":19,"v":2.0,"s":"T"},{"p":"Shaanxi","m":20,"v":2.2,"s":"T"},
{"p":"Shaanxi","m":21,"v":1.9,"s":"T"},{"p":"Shaanxi","m":22,"v":2.1,"s":"T"},{"p":"Shaanxi","m":23,"v":2.3,"s":"T"},{"p":"Shaanxi","m":24,"v":2.0,"s":"T"},{"p":"Shaanxi","m":25,"v":2.2,"s":"T"},{"p":"Shaanxi","m":26,"v":2.4,"s":"T"},{"p":"Shaanxi","m":27,"v":2.1,"s":"T"},{"p":"Shaanxi","m":28,"v":2.3,"s":"T"},{"p":"Shaanxi","m":29,"v":2.5,"s":"T"},{"p":"Shaanxi","m":30,"v":2.2,"s":"T"},
{"p":"Shaanxi","m":31,"v":2.4,"s":"T"},{"p":"Shaanxi","m":32,"v":2.6,"s":"T"},{"p":"Shaanxi","m":33,"v":2.3,"s":"T"},{"p":"Shaanxi","m":34,"v":2.5,"s":"T"},{"p":"Shaanxi","m":35,"v":2.7,"s":"T"},{"p":"Shaanxi","m":36,"v":2.4,"s":"T"},{"p":"Shaanxi","m":37,"v":2.6,"s":"T"},{"p":"Shaanxi","m":38,"v":2.8,"s":"T"},{"p":"Shaanxi","m":39,"v":2.5,"s":"T"},{"p":"Shaanxi","m":40,"v":2.7,"s":"T"},
{"p":"Shaanxi","m":41,"v":2.9,"s":"T"},{"p":"Shaanxi","m":42,"v":2.6,"s":"T"},{"p":"Shaanxi","m":43,"v":2.8,"s":"T"},{"p":"Shaanxi","m":44,"v":3.0,"s":"T"},{"p":"Shaanxi","m":45,"v":2.7,"s":"T"},{"p":"Shaanxi","m":46,"v":2.9,"s":"T"},{"p":"Shaanxi","m":47,"v":3.1,"s":"T"},{"p":"Shaanxi","m":48,"v":2.8,"s":"T"},
{"p":"Shaanxi","m":49,"v":3.4,"s":"T"},{"p":"Shaanxi","m":50,"v":3.7,"s":"T"},{"p":"Shaanxi","m":51,"v":3.3,"s":"T"},{"p":"Shaanxi","m":52,"v":3.8,"s":"T"},{"p":"Shaanxi","m":53,"v":3.5,"s":"T"},{"p":"Shaanxi","m":54,"v":3.9,"s":"T"},{"p":"Shaanxi","m":55,"v":3.6,"s":"T"},{"p":"Shaanxi","m":56,"v":3.4,"s":"T"},{"p":"Shaanxi","m":57,"v":3.8,"s":"T"},{"p":"Shaanxi","m":58,"v":3.5,"s":"T"},{"p":"Shaanxi","m":59,"v":3.9,"s":"T"},{"p":"Shaanxi","m":60,"v":3.6,"s":"T"},
{"p":"Shaanxi","m":49,"v":3.3,"s":"F"},{"p":"Shaanxi","m":50,"v":3.4,"s":"F"},{"p":"Shaanxi","m":51,"v":3.5,"s":"F"},{"p":"Shaanxi","m":52,"v":3.6,"s":"F"},{"p":"Shaanxi","m":53,"v":3.6,"s":"F"},{"p":"Shaanxi","m":54,"v":3.7,"s":"F"},{"p":"Shaanxi","m":55,"v":3.8,"s":"F"},{"p":"Shaanxi","m":56,"v":3.8,"s":"F"},{"p":"Shaanxi","m":57,"v":3.9,"s":"F"},{"p":"Shaanxi","m":58,"v":4.0,"s":"F"},{"p":"Shaanxi","m":59,"v":4.0,"s":"F"},{"p":"Shaanxi","m":60,"v":4.1,"s":"F"},

{"p":"Gansu","m":1,"v":2.3,"s":"T"},{"p":"Gansu","m":2,"v":2.1,"s":"T"},{"p":"Gansu","m":3,"v":1.6,"s":"T"},{"p":"Gansu","m":4,"v":1.2,"s":"T"},{"p":"Gansu","m":5,"v":-6.6,"s":"T"},{"p":"Gansu","m":6,"v":1.0,"s":"T"},{"p":"Gansu","m":7,"v":1.5,"s":"T"},{"p":"Gansu","m":8,"v":1.9,"s":"T"},{"p":"Gansu","m":9,"v":1.6,"s":"T"},{"p":"Gansu","m":10,"v":2.0,"s":"T"},
{"p":"Gansu","m":11,"v":2.2,"s":"T"},{"p":"Gansu","m":12,"v":2.4,"s":"T"},{"p":"Gansu","m":13,"v":2.0,"s":"T"},{"p":"Gansu","m":14,"v":2.3,"s":"T"},{"p":"Gansu","m":15,"v":2.1,"s":"T"},{"p":"Gansu","m":16,"v":1.8,"s":"T"},{"p":"Gansu","m":17,"v":1.4,"s":"T"},{"p":"Gansu","m":18,"v":1.2,"s":"T"},{"p":"Gansu","m":19,"v":1.6,"s":"T"},{"p":"Gansu","m":20,"v":1.9,"s":"T"},
{"p":"Gansu","m":21,"v":2.1,"s":"T"},{"p":"Gansu","m":22,"v":2.3,"s":"T"},{"p":"Gansu","m":23,"v":2.0,"s":"T"},{"p":"Gansu","m":24,"v":2.2,"s":"T"},{"p":"Gansu","m":25,"v":2.4,"s":"T"},{"p":"Gansu","m":26,"v":2.1,"s":"T"},{"p":"Gansu","m":27,"v":1.9,"s":"T"},{"p":"Gansu","m":28,"v":2.2,"s":"T"},{"p":"Gansu","m":29,"v":2.0,"s":"T"},{"p":"Gansu","m":30,"v":1.8,"s":"T"},
{"p":"Gansu","m":31,"v":2.1,"s":"T"},{"p":"Gansu","m":32,"v":2.3,"s":"T"},{"p":"Gansu","m":33,"v":2.0,"s":"T"},{"p":"Gansu","m":34,"v":2.4,"s":"T"},{"p":"Gansu","m":35,"v":2.6,"s":"T"},{"p":"Gansu","m":36,"v":2.3,"s":"T"},{"p":"Gansu","m":37,"v":2.5,"s":"T"},{"p":"Gansu","m":38,"v":2.8,"s":"T"},{"p":"Gansu","m":39,"v":2.4,"s":"T"},{"p":"Gansu","m":40,"v":2.2,"s":"T"},
{"p":"Gansu","m":41,"v":2.6,"s":"T"},{"p":"Gansu","m":42,"v":2.9,"s":"T"},{"p":"Gansu","m":43,"v":2.7,"s":"T"},{"p":"Gansu","m":44,"v":2.4,"s":"T"},{"p":"Gansu","m":45,"v":1.5,"s":"T"},{"p":"Gansu","m":46,"v":2.2,"s":"T"},{"p":"Gansu","m":47,"v":2.8,"s":"T"},{"p":"Gansu","m":48,"v":2.4,"s":"T"},
{"p":"Gansu","m":49,"v":2.6,"s":"T"},{"p":"Gansu","m":50,"v":3.0,"s":"T"},{"p":"Gansu","m":51,"v":2.7,"s":"T"},{"p":"Gansu","m":52,"v":3.2,"s":"T"},{"p":"Gansu","m":53,"v":2.9,"s":"T"},{"p":"Gansu","m":54,"v":2.5,"s":"T"},{"p":"Gansu","m":55,"v":3.1,"s":"T"},{"p":"Gansu","m":56,"v":3.4,"s":"T"},{"p":"Gansu","m":57,"v":2.8,"s":"T"},{"p":"Gansu","m":58,"v":2.6,"s":"T"},{"p":"Gansu","m":59,"v":3.0,"s":"T"},{"p":"Gansu","m":60,"v":2.8,"s":"T"},
{"p":"Gansu","m":49,"v":2.0,"s":"F"},{"p":"Gansu","m":50,"v":2.2,"s":"F"},{"p":"Gansu","m":51,"v":2.3,"s":"F"},{"p":"Gansu","m":52,"v":2.3,"s":"F"},{"p":"Gansu","m":53,"v":2.4,"s":"F"},{"p":"Gansu","m":54,"v":2.4,"s":"F"},{"p":"Gansu","m":55,"v":2.5,"s":"F"},{"p":"Gansu","m":56,"v":2.5,"s":"F"},{"p":"Gansu","m":57,"v":2.5,"s":"F"},{"p":"Gansu","m":58,"v":2.6,"s":"F"},{"p":"Gansu","m":59,"v":2.6,"s":"F"},{"p":"Gansu","m":60,"v":2.7,"s":"F"},

{"p":"Qinghai","m":1,"v":0.4,"s":"T"},{"p":"Qinghai","m":2,"v":-6.9,"s":"T"},{"p":"Qinghai","m":3,"v":0.6,"s":"T"},{"p":"Qinghai","m":4,"v":-6.9,"s":"T"},{"p":"Qinghai","m":5,"v":-6.9,"s":"T"},{"p":"Qinghai","m":6,"v":-6.9,"s":"T"},{"p":"Qinghai","m":7,"v":0.5,"s":"T"},{"p":"Qinghai","m":8,"v":0.6,"s":"T"},{"p":"Qinghai","m":9,"v":0.3,"s":"T"},{"p":"Qinghai","m":10,"v":0.5,"s":"T"},
{"p":"Qinghai","m":11,"v":-6.9,"s":"T"},{"p":"Qinghai","m":12,"v":0.2,"s":"T"},{"p":"Qinghai","m":13,"v":0.5,"s":"T"},{"p":"Qinghai","m":14,"v":-6.9,"s":"T"},{"p":"Qinghai","m":15,"v":1.3,"s":"T"},{"p":"Qinghai","m":16,"v":1.0,"s":"T"},{"p":"Qinghai","m":17,"v":0.7,"s":"T"},{"p":"Qinghai","m":18,"v":0.9,"s":"T"},{"p":"Qinghai","m":19,"v":0.5,"s":"T"},{"p":"Qinghai","m":20,"v":0.3,"s":"T"},
{"p":"Qinghai","m":21,"v":0.6,"s":"T"},{"p":"Qinghai","m":22,"v":-6.9,"s":"T"},{"p":"Qinghai","m":23,"v":1.0,"s":"T"},{"p":"Qinghai","m":24,"v":0.4,"s":"T"},{"p":"Qinghai","m":25,"v":-6.9,"s":"T"},{"p":"Qinghai","m":26,"v":1.5,"s":"T"},{"p":"Qinghai","m":27,"v":0.4,"s":"T"},{"p":"Qinghai","m":28,"v":0.9,"s":"T"},{"p":"Qinghai","m":29,"v":1.4,"s":"T"},{"p":"Qinghai","m":30,"v":0.8,"s":"T"},
{"p":"Qinghai","m":31,"v":1.3,"s":"T"},{"p":"Qinghai","m":32,"v":1.1,"s":"T"},{"p":"Qinghai","m":33,"v":0.6,"s":"T"},{"p":"Qinghai","m":34,"v":1.2,"s":"T"},{"p":"Qinghai","m":35,"v":-6.9,"s":"T"},{"p":"Qinghai","m":36,"v":1.7,"s":"T"},{"p":"Qinghai","m":37,"v":1.8,"s":"T"},{"p":"Qinghai","m":38,"v":1.6,"s":"T"},{"p":"Qinghai","m":39,"v":1.7,"s":"T"},{"p":"Qinghai","m":40,"v":1.9,"s":"T"},
{"p":"Qinghai","m":41,"v":1.8,"s":"T"},{"p":"Qinghai","m":42,"v":2.0,"s":"T"},{"p":"Qinghai","m":43,"v":2.2,"s":"T"},{"p":"Qinghai","m":44,"v":2.0,"s":"T"},{"p":"Qinghai","m":45,"v":1.6,"s":"T"},{"p":"Qinghai","m":46,"v":1.5,"s":"T"},{"p":"Qinghai","m":47,"v":1.9,"s":"T"},{"p":"Qinghai","m":48,"v":1.7,"s":"T"},
{"p":"Qinghai","m":49,"v":1.5,"s":"T"},{"p":"Qinghai","m":50,"v":1.2,"s":"T"},{"p":"Qinghai","m":51,"v":1.8,"s":"T"},{"p":"Qinghai","m":52,"v":0.9,"s":"T"},{"p":"Qinghai","m":53,"v":2.9,"s":"T"},{"p":"Qinghai","m":54,"v":1.4,"s":"T"},{"p":"Qinghai","m":55,"v":1.0,"s":"T"},{"p":"Qinghai","m":56,"v":1.6,"s":"T"},{"p":"Qinghai","m":57,"v":1.2,"s":"T"},{"p":"Qinghai","m":58,"v":1.8,"s":"T"},{"p":"Qinghai","m":59,"v":1.3,"s":"T"},{"p":"Qinghai","m":60,"v":1.7,"s":"T"},
{"p":"Qinghai","m":49,"v":0.8,"s":"F"},{"p":"Qinghai","m":50,"v":1.0,"s":"F"},{"p":"Qinghai","m":51,"v":0.7,"s":"F"},{"p":"Qinghai","m":52,"v":1.1,"s":"F"},{"p":"Qinghai","m":53,"v":0.9,"s":"F"},{"p":"Qinghai","m":54,"v":0.8,"s":"F"},{"p":"Qinghai","m":55,"v":1.0,"s":"F"},{"p":"Qinghai","m":56,"v":0.9,"s":"F"},{"p":"Qinghai","m":57,"v":0.8,"s":"F"},{"p":"Qinghai","m":58,"v":1.0,"s":"F"},{"p":"Qinghai","m":59,"v":0.9,"s":"F"},{"p":"Qinghai","m":60,"v":1.1,"s":"F"},

{"p":"Ningxia","m":1,"v":-6.9,"s":"T"},{"p":"Ningxia","m":2,"v":0.8,"s":"T"},{"p":"Ningxia","m":3,"v":1.0,"s":"T"},{"p":"Ningxia","m":4,"v":-6.9,"s":"T"},{"p":"Ningxia","m":5,"v":0.6,"s":"T"},{"p":"Ningxia","m":6,"v":0.9,"s":"T"},{"p":"Ningxia","m":7,"v":-6.9,"s":"T"},{"p":"Ningxia","m":8,"v":0.7,"s":"T"},{"p":"Ningxia","m":9,"v":-6.9,"s":"T"},{"p":"Ningxia","m":10,"v":-6.9,"s":"T"},
{"p":"Ningxia","m":11,"v":0.5,"s":"T"},{"p":"Ningxia","m":12,"v":1.2,"s":"T"},{"p":"Ningxia","m":13,"v":0.9,"s":"T"},{"p":"Ningxia","m":14,"v":0.6,"s":"T"},{"p":"Ningxia","m":15,"v":0.8,"s":"T"},{"p":"Ningxia","m":16,"v":0.7,"s":"T"},{"p":"Ningxia","m":17,"v":0.9,"s":"T"},{"p":"Ningxia","m":18,"v":1.1,"s":"T"},{"p":"Ningxia","m":19,"v":0.8,"s":"T"},{"p":"Ningxia","m":20,"v":-6.9,"s":"T"},
{"p":"Ningxia","m":21,"v":0.9,"s":"T"},{"p":"Ningxia","m":22,"v":1.3,"s":"T"},{"p":"Ningxia","m":23,"v":-6.9,"s":"T"},{"p":"Ningxia","m":24,"v":0.8,"s":"T"},{"p":"Ningxia","m":25,"v":1.5,"s":"T"},{"p":"Ningxia","m":26,"v":1.0,"s":"T"},{"p":"Ningxia","m":27,"v":-6.9,"s":"T"},{"p":"Ningxia","m":28,"v":-6.9,"s":"T"},{"p":"Ningxia","m":29,"v":-6.9,"s":"T"},{"p":"Ningxia","m":30,"v":-6.9,"s":"T"},
{"p":"Ningxia","m":31,"v":-6.9,"s":"T"},{"p":"Ningxia","m":32,"v":-6.9,"s":"T"},{"p":"Ningxia","m":33,"v":-6.9,"s":"T"},{"p":"Ningxia","m":34,"v":0.7,"s":"T"},{"p":"Ningxia","m":35,"v":1.2,"s":"T"},{"p":"Ningxia","m":36,"v":1.0,"s":"T"},{"p":"Ningxia","m":37,"v":1.6,"s":"T"},{"p":"Ningxia","m":38,"v":1.4,"s":"T"},{"p":"Ningxia","m":39,"v":1.8,"s":"T"},{"p":"Ningxia","m":40,"v":2.0,"s":"T"},
{"p":"Ningxia","m":41,"v":1.7,"s":"T"},{"p":"Ningxia","m":42,"v":1.9,"s":"T"},{"p":"Ningxia","m":43,"v":2.1,"s":"T"},{"p":"Ningxia","m":44,"v":1.8,"s":"T"},{"p":"Ningxia","m":45,"v":-6.9,"s":"T"},{"p":"Ningxia","m":46,"v":2.0,"s":"T"},{"p":"Ningxia","m":47,"v":1.7,"s":"T"},{"p":"Ningxia","m":48,"v":1.5,"s":"T"},
{"p":"Ningxia","m":49,"v":1.2,"s":"T"},{"p":"Ningxia","m":50,"v":1.8,"s":"T"},{"p":"Ningxia","m":51,"v":0.5,"s":"T"},{"p":"Ningxia","m":52,"v":1.4,"s":"T"},{"p":"Ningxia","m":53,"v":1.0,"s":"T"},{"p":"Ningxia","m":54,"v":1.7,"s":"T"},{"p":"Ningxia","m":55,"v":1.2,"s":"T"},{"p":"Ningxia","m":56,"v":2.1,"s":"T"},{"p":"Ningxia","m":57,"v":1.5,"s":"T"},{"p":"Ningxia","m":58,"v":1.1,"s":"T"},{"p":"Ningxia","m":59,"v":1.9,"s":"T"},{"p":"Ningxia","m":60,"v":1.6,"s":"T"},
{"p":"Ningxia","m":49,"v":0.9,"s":"F"},{"p":"Ningxia","m":50,"v":0.3,"s":"F"},{"p":"Ningxia","m":51,"v":0.7,"s":"F"},{"p":"Ningxia","m":52,"v":1.0,"s":"F"},{"p":"Ningxia","m":53,"v":0.8,"s":"F"},{"p":"Ningxia","m":54,"v":1.2,"s":"F"},{"p":"Ningxia","m":55,"v":1.0,"s":"F"},{"p":"Ningxia","m":56,"v":1.3,"s":"F"},{"p":"Ningxia","m":57,"v":1.1,"s":"F"},{"p":"Ningxia","m":58,"v":1.4,"s":"F"},{"p":"Ningxia","m":59,"v":1.3,"s":"F"},{"p":"Ningxia","m":60,"v":1.5,"s":"F"}
]},
"columns":6,
"spacing":{"row":23.75,"column":12.5},
"facet":{"field":"p","type":"nominal","sort":["Beijing","Tianjin","Heibei","Shanxi","Inner-Mongolia","Liaoning","Jilin","Heilongjiang","Shanghai","Jiangsu","Zhejiang","Anhui","Fujian","Jiangxi","Shandong","Henan","Hubei","Hunan","Guangdong","Guangxi","Hainan","Chongqing","Sichuan","Guizhou","Yunnan","Tibet","Shaanxi","Gansu","Qinghai","Ningxia"],"header":{"title":null,"labelFontSize":8,"labelPadding":1,"labelFont":"Liberation Sans","labelColor":"#111"}},
"spec":{
"width":101,"height":60,
"layer":[
{"transform":[{"filter":"datum.m==1 && datum.s=='T'"}],"mark":{"type":"rule","color":"#E8606E","strokeDash":[5,3],"strokeWidth":1},"encoding":{"x":{"datum":48.5,"type":"quantitative"}}},
{"mark":{"type":"line","strokeWidth":0.7,"strokeOpacity":0.8},"encoding":{
"x":{"field":"m","type":"quantitative","scale":{"domain":[-3.3,63.3],"nice":false,"zero":false},"axis":{"values":[0,20,40,60],"tickCount":10,"title":null,"labelOverlap":false,"labelFlush":false}},
"y":{"field":"v","type":"quantitative","scale":{"domain":[-8.3,11.7],"nice":false,"zero":false},"axis":{"values":[-5,0,5,10],"tickCount":10,"title":null,"labelAngle":-90,"labelOverlap":false,"labelFlush":false}},
"color":{"field":"s","type":"nominal","scale":{"domain":["F","T"],"range":["#FF0000","#0000FF"]},"legend":{"orient":"none","legendX":175,"legendY":446,"direction":"horizontal","title":null,"padding":0,"symbolType":"M -6 0 L -0.62 0 M 0.62 0 L 6 0 M -0.62 0 A 0.62 0.62 0 1 1 0.62 0 A 0.62 0.62 0 1 1 -0.62 0","symbolSize":128,"symbolStrokeWidth":2.5,"symbolFillColor":"white","symbolOpacity":1,"labelFontSize":11,"labelFont":"Liberation Sans","labelColor":"#222","labelOffset":40,"columnPadding":25,"labelExpr":"datum.value=='F'?'Forecasted LogCDC':'True LogCDC'"}},
"order":{"field":"m","type":"quantitative"}}},
{"mark":{"type":"point","shape":"circle","filled":false,"size":9,"strokeWidth":0.6,"opacity":0.8},"encoding":{
"x":{"field":"m","type":"quantitative","axis":{"values":[0,20,40,60],"tickCount":10,"title":null,"labelOverlap":false,"labelFlush":false}},
"y":{"field":"v","type":"quantitative","axis":{"values":[-5,0,5,10],"tickCount":10,"title":null,"labelAngle":-90,"labelOverlap":false,"labelFlush":false}},
"color":{"field":"s","type":"nominal","legend":{"orient":"none","legendX":175,"legendY":446,"direction":"horizontal","title":null,"padding":0,"symbolType":"M -6 0 L -0.62 0 M 0.62 0 L 6 0 M -0.62 0 A 0.62 0.62 0 1 1 0.62 0 A 0.62 0.62 0 1 1 -0.62 0","symbolSize":128,"symbolStrokeWidth":2.5,"symbolFillColor":"white","symbolOpacity":1,"labelFontSize":11,"labelFont":"Liberation Sans","labelColor":"#222","labelOffset":40,"columnPadding":25,"labelExpr":"datum.value=='F'?'Forecasted LogCDC':'True LogCDC'"}}}}
]},
"title":{"text":"Month","orient":"bottom","fontSize":14,"font":"Liberation Sans","fontWeight":"normal","color":"#111","offset":-48,"anchor":"middle"},
"config":{
"view":{"stroke":"#888888","strokeWidth":1},
"font":"Liberation Sans",
"axis":{"grid":false,"domain":false,"labelFontSize":8,"labelColor":"#222","tickColor":"#555","tickSize":3,"labelPadding":1,"labelFont":"Liberation Sans","labelOverlap":false,"labelFlush":false}
}
}
